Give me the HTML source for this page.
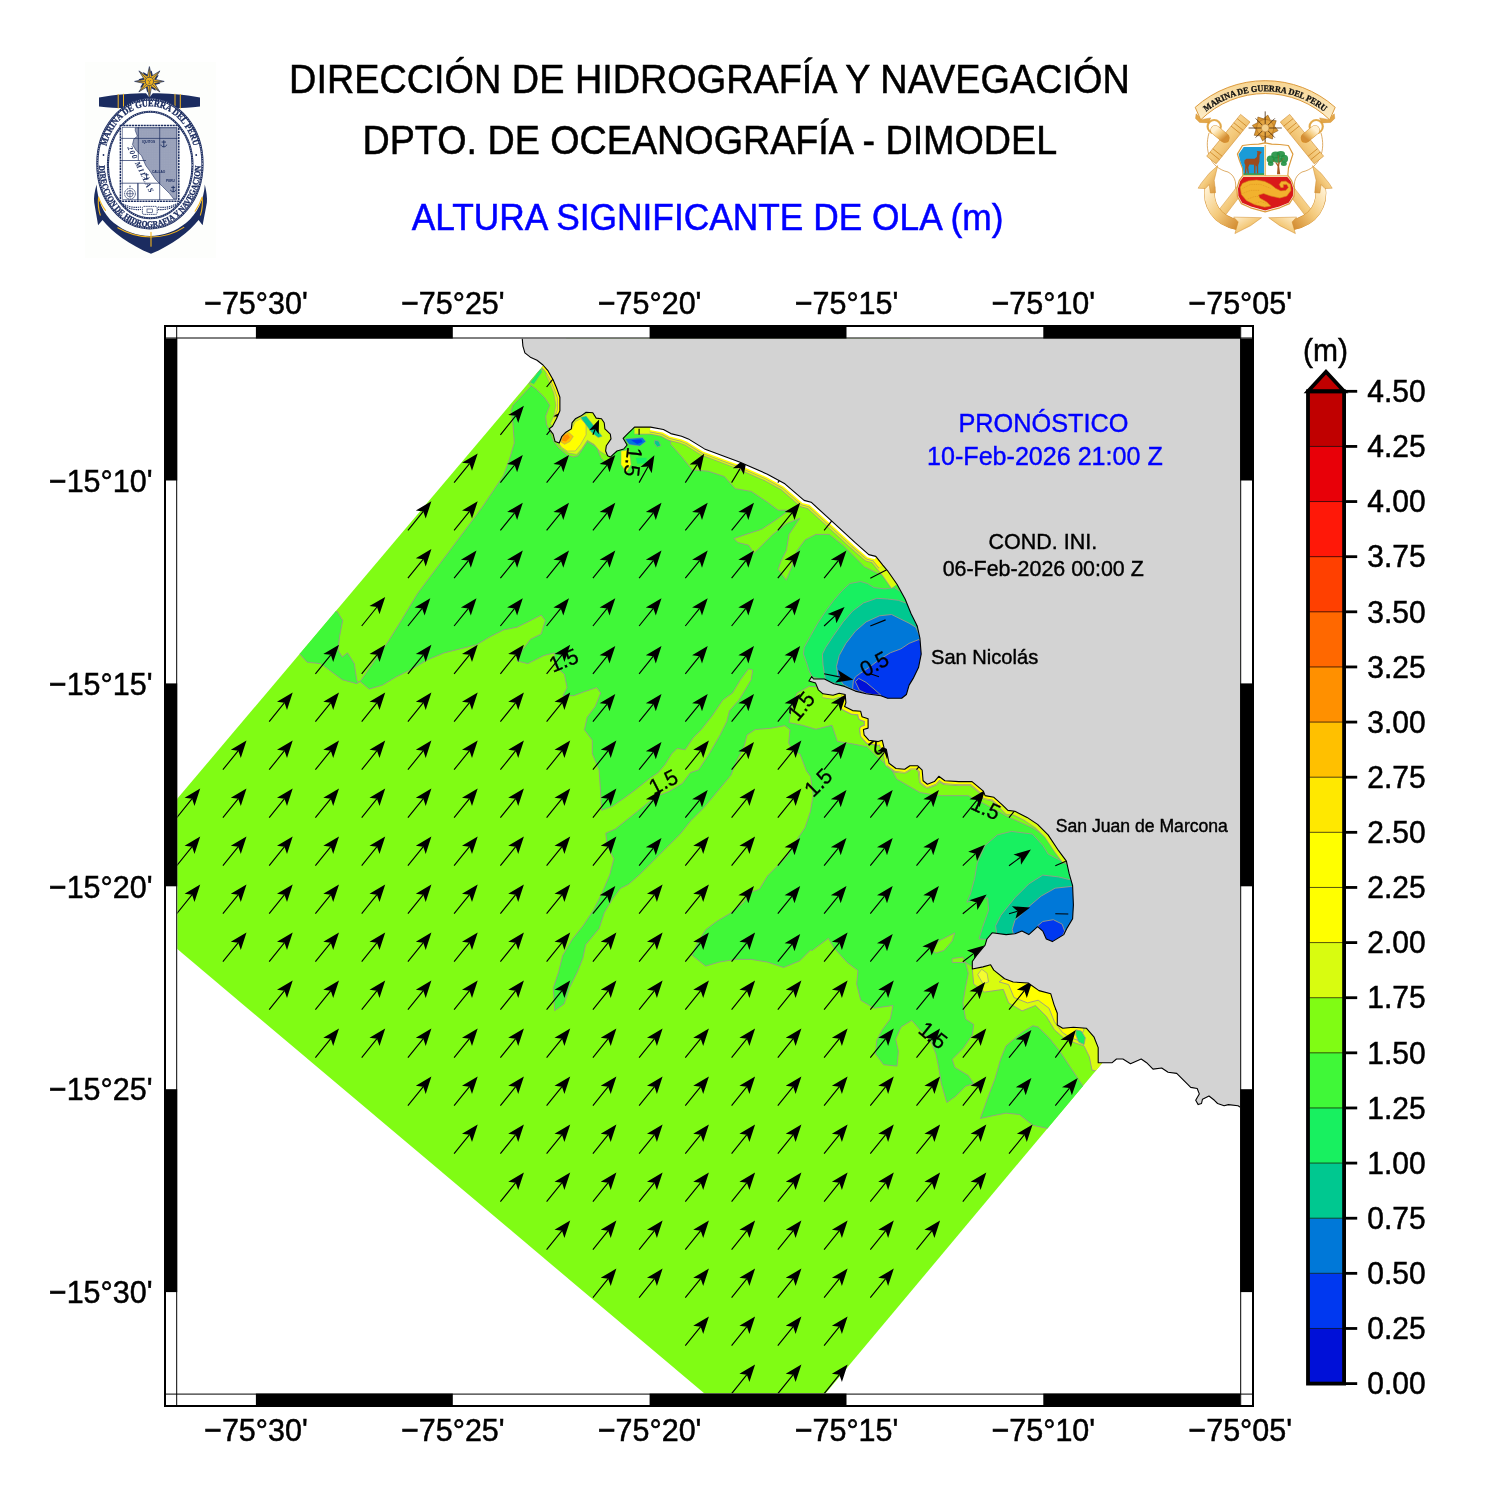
<!DOCTYPE html>
<html><head><meta charset="utf-8"><title>Altura significante de ola</title>
<style>html,body{margin:0;padding:0;background:#fff}body{width:1487px;height:1500px;overflow:hidden;font-family:"Liberation Sans",sans-serif}svg{display:block;will-change:transform;transform:translateZ(0)}text{font-family:"Liberation Sans",sans-serif}</style></head><body>
<svg width="1487" height="1500" viewBox="0 0 1487 1500">
<rect width="1487" height="1500" fill="#fff"/>
<g id="titles" text-anchor="middle" fill="#000" stroke="#000" stroke-width="0.5">
<text transform="translate(709.4,92.9) scale(1,1.055)" font-size="37.83">DIRECCIÓN DE HIDROGRAFÍA Y NAVEGACIÓN</text>
<text transform="translate(709.8,154.4) scale(1,1.055)" font-size="37.7">DPTO. DE OCEANOGRAFÍA - DIMODEL</text>
<text transform="translate(707.6,230.2) scale(1,1.055)" font-size="35.33" fill="#0000ff" stroke="#0000ff">ALTURA SIGNIFICANTE DE OLA (m)</text>
</g>
<clipPath id="mapclip"><rect x="177.2" y="338.5" width="1063.0" height="1055.1"/></clipPath>
<g id="map" clip-path="url(#mapclip)">
<polygon points="700.0,180.0 103.1,886.5 775.4,1453.3 1400.0,707.5" fill="#80fc14"/>
<clipPath id="dpclip"><polygon points="700.0,180.0 103.1,886.5 775.4,1453.3 1400.0,707.5"/></clipPath>
<g clip-path="url(#dpclip)">
<polygon points="546.6,370.3 531.8,385.1 513.0,405.3 511.1,410.7 513.0,424.1 514.3,443.0 509.5,459.1 503.6,475.3 492.8,491.4 482.0,507.5 465.9,529.1 449.8,550.6 433.6,572.1 417.5,593.6 401.3,620.5 387.9,642.0 374.4,660.9 361.5,679.7 358.3,682.9 356.7,679.7 354.3,663.6 347.5,652.8 342.2,657.1 338.1,650.1 339.5,636.7 342.7,620.5 337.3,611.6 328.7,609.8 296.4,650.1 307.2,662.2 320.6,663.6 331.4,671.6 342.2,679.7 357.0,683.7 359.6,681.0 369.1,689.1 382.5,685.1 396.0,677.0 412.1,668.9 428.2,659.5 444.4,652.8 460.5,648.8 476.7,644.7 490.1,636.7 503.6,629.9 517.0,627.2 527.8,621.9 541.2,615.1 545.3,620.5 541.2,634.0 530.5,639.3 522.4,650.1 517.0,660.9 527.8,663.6 543.9,655.5 554.7,652.8 555.0,666.1 564.4,674.1 567.1,687.6 563.0,695.7 573.8,695.7 584.6,691.6 596.7,687.6 600.7,693.0 595.3,706.4 587.2,717.2 584.6,729.3 584.3,729.6 592.3,740.3 592.3,753.8 599.1,769.9 600.4,788.8 601.7,810.3 612.5,806.3 626.0,796.8 636.7,788.8 650.2,778.0 658.2,772.6 665.0,764.6 671.7,753.8 677.1,748.4 685.1,749.8 693.2,737.7 701.3,729.6 712.0,716.1 722.8,700.0 732.5,693.0 740.6,679.5 748.6,668.8 752.7,670.1 751.3,679.5 743.3,693.0 738.9,700.0 729.5,710.8 726.8,721.5 720.1,735.0 709.3,753.8 698.6,769.9 690.5,772.6 682.4,783.4 669.0,791.5 655.5,796.8 642.1,807.6 628.6,818.4 615.2,829.1 605.8,833.2 607.1,845.3 613.9,858.7 609.8,874.8 601.7,893.7 593.7,909.8 582.9,926.0 572.2,939.4 562.7,955.5 558.7,971.7 553.3,987.8 554.7,1010.7 564.1,1004.0 569.5,987.8 577.5,971.7 582.9,958.2 585.6,944.8 599.1,928.6 604.4,912.5 612.5,899.1 620.6,888.3 628.6,884.3 639.4,874.8 652.9,861.4 666.3,847.9 679.8,834.5 690.5,821.0 704.0,807.6 717.4,791.5 730.9,775.3 736.2,761.9 744.3,745.7 747.0,735.0 755.1,729.6 771.2,728.2 784.7,725.6 790.0,729.6 788.7,743.0 792.7,751.1 800.0,753.8 802.4,760.2 806.5,771.0 810.5,776.4 813.2,795.2 810.5,811.3 805.1,827.5 794.4,843.6 786.3,857.1 778.2,865.1 767.5,875.9 759.4,889.3 751.3,892.0 743.3,902.8 729.8,913.6 716.4,921.6 705.6,929.7 697.5,943.1 692.2,955.3 692.2,955.4 705.6,966.1 719.1,962.1 735.2,959.4 751.3,959.4 767.5,962.1 783.6,967.5 799.8,960.8 810.5,950.0 812.3,950.4 828.4,938.3 833.8,947.7 847.2,962.5 858.0,970.6 856.7,984.0 860.7,1000.2 874.1,1008.2 893.0,1005.5 890.3,1019.0 882.2,1029.8 876.8,1040.5 875.5,1054.0 883.6,1064.7 897.0,1066.1 898.4,1051.3 895.7,1039.2 901.0,1027.1 911.8,1020.3 919.9,1029.8 930.6,1040.5 936.0,1054.0 938.7,1067.4 941.4,1083.6 946.8,1102.4 954.8,1097.0 965.6,1086.2 973.7,1083.6 968.3,1075.5 954.8,1067.4 952.2,1059.3 962.9,1048.6 972.3,1035.1 973.7,1024.4 965.6,1019.0 962.9,1002.9 965.6,986.7 968.3,973.3 965.6,962.5 972.3,966.5 1000.0,960.0 1100.0,960.0 1100.0,820.0 960.0,760.0 940.0,620.0 880.0,540.0 700.0,425.0 600.0,400.0 570.0,400.0 566.0,445.0 548.0,428.0 564.0,400.0 548.0,362.0" fill="#40f838" stroke="#9a9a8a" stroke-width="0.9" stroke-linejoin="round"/>
<polygon points="1032.9,1025.7 1022.1,1032.4 1006.0,1045.9 1000.6,1059.3 995.2,1078.2 987.1,1099.7 980.4,1118.5 992.5,1115.8 1006.0,1113.1 1019.4,1114.5 1032.9,1125.3 1051.7,1129.3 1092.0,1099.7 1078.6,1079.5 1070.5,1067.4 1059.8,1051.3 1049.0,1037.8 1038.2,1027.1" fill="#40f838" stroke="#9a9a8a" stroke-width="0.9" stroke-linejoin="round"/>
<polygon points="932.0,950.4 938.7,941.0 954.8,932.9 952.2,941.0 944.1,950.4 936.0,953.1" fill="#80fc14" stroke="#9a9a8a" stroke-width="0.9" stroke-linejoin="round"/>
<polygon points="952.2,958.5 962.9,957.1 965.6,962.5 952.2,962.5" fill="#80fc14" stroke="#9a9a8a" stroke-width="0.9" stroke-linejoin="round"/>
<polygon points="670.6,444.3 681.4,456.4 692.2,469.9 708.3,471.2 724.4,476.6 735.2,488.7 751.3,491.4 767.5,502.2 778.2,510.2 789.0,510.2 778.2,518.3 762.1,529.1 746.0,534.4 733.9,538.5 737.9,542.5 748.6,545.2 754.0,553.3 762.1,545.2 772.9,534.4 786.3,523.7 799.8,518.3 789.0,534.4 786.3,550.6 780.9,561.3 778.2,569.4 786.3,580.2 791.7,566.7 797.1,550.6 805.1,539.8 815.9,534.4 829.3,534.4 842.8,545.2 850.9,553.3 864.3,566.7 877.8,573.4 891.2,577.5 896.6,582.9 907.4,588.2 907.4,572.1 869.7,529.1 805.1,491.4 735.2,456.4 681.4,432.2 670.6,437.6" fill="#80fc14" stroke="#9a9a8a" stroke-width="0.9" stroke-linejoin="round"/>
<polygon points="812.3,677.0 808.9,670.3 806.9,663.6 803.5,654.1 804.2,647.4 810.9,635.3 817.7,623.2 825.7,611.1 833.8,600.3 841.9,590.9 849.9,583.5 860.7,581.5 867.4,583.5 874.1,587.6 884.9,588.9 894.3,587.6 900.4,591.6 914.5,600.3 927.9,654.1 907.8,705.3 880.9,699.9 852.6,689.8 824.4,679.7" fill="#18f060" stroke="#9a9a8a" stroke-width="0.9" stroke-linejoin="round"/>
<polygon points="825.1,678.4 823.0,664.9 822.4,654.1 825.7,647.4 833.8,635.3 843.2,621.9 852.6,611.1 863.4,603.0 876.8,598.3 887.6,599.0 898.4,600.3 905.8,603.0 914.5,600.3 927.9,654.1 907.8,705.3 880.9,699.9 852.6,689.8 824.4,679.7" fill="#00c890" stroke="#9a9a8a" stroke-width="0.9" stroke-linejoin="round"/>
<polygon points="843.2,684.4 837.8,675.7 836.5,666.3 839.2,655.5 845.9,643.4 855.3,631.3 866.1,621.9 879.5,615.8 891.6,614.5 901.0,619.2 909.1,623.2 915.8,627.2 927.9,654.1 907.8,705.3 880.9,699.9 852.6,689.8" fill="#0078d8" stroke="#9a9a8a" stroke-width="0.9" stroke-linejoin="round"/>
<polygon points="852.6,689.1 853.3,681.0 855.3,677.0 860.7,673.0 868.8,667.6 879.5,659.5 890.3,652.8 901.0,648.8 909.1,643.4 919.2,639.4 927.9,654.1 907.8,705.3 880.9,699.9" fill="#0038f0" stroke="#9a9a8a" stroke-width="0.9" stroke-linejoin="round"/>
<polygon points="855.3,681.7 858.7,678.4 866.1,682.4 874.1,689.1 880.9,695.2 874.1,694.8 866.1,693.4 859.4,690.2" fill="#0010d8" stroke="#9a9a8a" stroke-width="0.9" stroke-linejoin="round"/>
<polygon points="979.0,938.9 982.5,927.6 988.6,910.1 987.7,897.9 972.9,900.5 966.8,902.2 970.3,894.4 974.6,878.6 977.3,862.9 985.1,845.4 997.4,834.9 1011.4,831.4 1032.3,834.0 1042.8,845.4 1048.1,854.1 1060.3,860.3 1067.3,864.6 1084.8,869.9 1084.8,948.6 1049.8,950.3 992.1,939.8" fill="#18f060" stroke="#9a9a8a" stroke-width="0.9" stroke-linejoin="round"/>
<polygon points="995.6,925.8 1000.9,915.3 1014.8,897.9 1028.8,883.9 1042.8,875.1 1058.6,876.9 1069.1,879.5 1084.8,882.1 1084.8,948.6 997.4,939.8" fill="#00c890" stroke="#9a9a8a" stroke-width="0.9" stroke-linejoin="round"/>
<polygon points="1012.2,929.3 1014.8,920.6 1028.8,906.6 1041.1,896.1 1055.1,888.2 1070.8,886.5 1084.8,887.4 1084.8,948.6 1014.8,939.8" fill="#0078d8" stroke="#9a9a8a" stroke-width="0.9" stroke-linejoin="round"/>
<polygon points="1037.6,925.8 1042.8,921.5 1053.3,919.7 1062.1,924.1 1064.7,931.1 1061.2,938.9 1052.4,943.3 1044.6,939.8 1041.1,931.1" fill="#0038f0" stroke="#9a9a8a" stroke-width="0.9" stroke-linejoin="round"/>
<polygon points="809.2,686.3 797.1,693.0 791.7,706.4 789.0,722.6 802.4,725.3 815.9,729.3 832.0,725.3 837.4,741.4 853.6,744.1 867.0,746.8 877.8,757.5 891.2,768.3 896.6,779.1 920.0,792.5 930.6,794.4 941.4,795.7 968.3,795.7 984.4,803.8 1008.6,817.2 1032.9,828.0 1049.0,838.8 1065.1,863.0 1075.9,857.6 1022.1,790.3 941.4,766.1 920.0,754.8 869.7,714.5 829.3,687.6" fill="#80fc14" stroke="#9a9a8a" stroke-width="0.9" stroke-linejoin="round"/>
<polygon points="972.3,969.2 973.7,984.0 984.4,992.1 1003.3,989.4 1008.6,1002.9 1022.1,1010.9 1035.5,1005.5 1046.3,1016.3 1054.4,1029.8 1065.1,1039.2 1075.9,1043.2 1084.0,1045.9 1089.3,1056.7 1092.0,1070.1 1098.8,1071.5 1116.2,1045.9 1062.4,978.6 995.2,954.4" fill="#d8fc10" stroke="#9a9a8a" stroke-width="0.9" stroke-linejoin="round"/>
<polygon points="999.2,981.9 1008.6,984.6 1014.0,997.5 1027.5,1002.9 1038.2,1000.2 1049.0,1008.2 1054.4,1021.7 1062.4,1032.4 1070.5,1037.8 1078.6,1040.5 1084.0,1029.8 1062.4,978.6 1022.1,965.2" fill="#ffff00" stroke="#9a9a8a" stroke-width="0.9" stroke-linejoin="round"/>
<polygon points="977.7,974.6 983.1,984.0 988.5,981.9 987.1,973.3 981.7,969.2" fill="#f4fc30" stroke="#9a9a8a" stroke-width="0.7" stroke-linejoin="round"/>
<polygon points="1075.9,1029.8 1081.3,1031.1 1085.3,1037.8 1084.0,1044.6 1078.6,1041.9 1075.9,1035.1" fill="#18f060" stroke="#9a9a8a" stroke-width="0.9" stroke-linejoin="round"/>
<polygon points="540.3,370.3 533.6,374.4 528.9,383.8 536.3,389.2 544.4,397.2 549.8,405.3 545.7,416.1 546.4,424.1 549.8,430.9 553.8,441.6 559.2,448.4 567.2,455.1 573.3,457.1 578.0,455.8 582.0,449.7 587.4,441.6 596.8,447.0 600.9,457.8 606.3,463.2 611.6,457.1 614.3,437.6 594.1,410.7 567.2,410.7 560.5,383.8 547.1,367.7" fill="#80fc14" stroke="#9a9a8a" stroke-width="0.9" stroke-linejoin="round"/>
<polygon points="540.6,368.7 530.3,382.5 533.9,384.1 542.0,372.0" fill="#18f060" stroke="#9a9a8a" stroke-width="0.5" stroke-linejoin="round"/>
<polygon points="545.7,374.4 550.0,383.8 553.8,393.2 555.8,405.3 553.8,416.1 550.0,424.1 553.8,426.8 561.9,410.7 560.5,383.8 551.1,370.3" fill="#d8fc10" stroke="#9a9a8a" stroke-width="0.6" stroke-linejoin="round"/>
<polygon points="559.2,444.3 557.8,437.6 563.2,432.2 571.3,428.9 573.3,421.5 580.7,416.1 594.1,410.7 604.9,416.1 611.6,432.2 611.6,440.3 606.3,447.0 606.3,455.1 599.5,451.0 594.1,444.3 587.4,440.3 582.0,448.4 576.7,454.4 568.6,453.1 561.9,448.4" fill="#d8fc10" stroke="#9a9a8a" stroke-width="0.6" stroke-linejoin="round"/>
<polygon points="559.2,443.7 563.2,433.6 571.3,429.5 575.3,421.5 580.7,418.8 586.1,424.1 586.1,434.9 580.7,444.3 575.3,451.0 567.2,451.0 561.2,447.0" fill="#ffff00" stroke="#9a9a8a" stroke-width="0.6" stroke-linejoin="round"/>
<polygon points="560.8,441.9 563.2,434.4 568.6,432.2 573.3,436.5 569.9,441.6 564.6,444.3" fill="#ffc000" stroke="#9a9a8a" stroke-width="0.5" stroke-linejoin="round"/>
<polygon points="561.6,440.6 563.8,435.4 567.9,434.2 569.9,437.6 565.9,441.4" fill="#ff9000"/>
<polygon points="580.7,417.4 586.1,416.1 602.2,436.3 598.2,437.6 591.5,432.2" fill="#00c890" stroke="#9a9a8a" stroke-width="0.5" stroke-linejoin="round"/>
<polygon points="625.1,438.9 642.6,437.6 645.9,441.6 639.9,445.9 629.1,444.6" fill="#0078d8" stroke="#9a9a8a" stroke-width="0.5" stroke-linejoin="round"/>
<polygon points="631.1,440.3 641.2,439.2 642.6,441.9 637.2,444.1" fill="#0038f0"/>
<polygon points="647.9,427.9 664.1,429.8 670.1,434.6 661.4,433.6 653.3,431.1" fill="#0078d8" stroke="#9a9a8a" stroke-width="0.5" stroke-linejoin="round"/>
<polygon points="621.0,451.0 629.1,449.7 631.1,464.5 626.4,472.6 621.0,464.5" fill="#ffff00" stroke="#9a9a8a" stroke-width="0.5" stroke-linejoin="round"/>
<polygon points="635.8,457.8 646.6,457.8 646.6,463.2 637.2,463.8" fill="#18f060"/>
<polygon points="654.7,440.3 658.7,441.0 660.7,445.7 657.4,447.0 654.7,443.7" fill="#00c890" stroke="#9a9a8a" stroke-width="0.7" stroke-linejoin="round"/>
<polyline points="634.5,427.1 650.6,427.1 663.4,429.5 670.8,433.6 681.6,436.3 688.3,438.9 704.5,448.9 739.5,462.0 767.4,474.2 784.9,483.8 804.1,500.4 811.1,502.2 832.1,521.4 854.9,542.4 868.8,554.6 875.8,556.4 882.8,565.1 887.6,570.8 897.0,584.2" fill="none" stroke="#9a9a8a" stroke-width="14.6" stroke-linejoin="round" stroke-linecap="butt"/>
<polyline points="634.5,427.1 650.6,427.1 663.4,429.5 670.8,433.6 681.6,436.3 688.3,438.9 704.5,448.9 739.5,462.0 767.4,474.2 784.9,483.8 804.1,500.4 811.1,502.2 832.1,521.4 854.9,542.4 868.8,554.6 875.8,556.4 882.8,565.1 887.6,570.8 897.0,584.2" fill="none" stroke="#d8fc10" stroke-width="13.2" stroke-linejoin="round" stroke-linecap="butt"/>
<polyline points="650.6,427.1 663.4,429.5 670.8,433.6 681.6,436.3 688.3,438.9 704.5,448.9 739.5,462.0 767.4,474.2 784.9,483.8 804.1,500.4 811.1,502.2 832.1,521.4 854.9,542.4 868.8,554.6 875.8,556.4 882.8,565.1" fill="none" stroke="#9a9a8a" stroke-width="10.6" stroke-linejoin="round" stroke-linecap="butt"/>
<polyline points="650.6,427.1 663.4,429.5 670.8,433.6 681.6,436.3 688.3,438.9 704.5,448.9 739.5,462.0 767.4,474.2 784.9,483.8 804.1,500.4 811.1,502.2 832.1,521.4 854.9,542.4 868.8,554.6 875.8,556.4 882.8,565.1" fill="none" stroke="#ffff00" stroke-width="9.2" stroke-linejoin="round" stroke-linecap="butt"/>
<polyline points="650.6,427.1 663.4,429.5 670.8,433.6 681.6,436.3 688.3,438.9 704.5,448.9 739.5,462.0 767.4,474.2 784.9,483.8 804.1,500.4 811.1,502.2 832.1,521.4 854.9,542.4 868.8,554.6 875.8,556.4" fill="none" stroke="#ffffff" stroke-width="6.0" stroke-linejoin="round" stroke-linecap="butt"/>
<polyline points="543.0,365.0 547.7,370.3 553.1,379.8 556.5,387.8 559.9,397.3 559.9,410.7 556.5,418.8" fill="none" stroke="#9a9a8a" stroke-width="5.800000000000001" stroke-linejoin="round" stroke-linecap="butt"/>
<polyline points="543.0,365.0 547.7,370.3 553.1,379.8 556.5,387.8 559.9,397.3 559.9,410.7 556.5,418.8" fill="none" stroke="#ffff00" stroke-width="4.4" stroke-linejoin="round" stroke-linecap="butt"/>
<polyline points="823.0,693.8 833.1,695.2 839.2,693.2 845.2,694.5 845.9,702.6 844.6,706.6 852.6,710.6 860.7,711.3 862.0,716.7 868.1,718.7 868.1,728.1 863.4,729.5 864.1,734.8 868.8,740.2 878.2,741.6 882.2,740.2 884.2,748.3 886.3,749.2 889.0,763.2 896.0,768.5 904.7,769.3 909.9,765.8 917.8,765.8 922.2,770.2 923.1,780.7 927.4,784.2 934.4,781.6 938.8,776.3 944.9,780.7 958.9,781.6 972.0,781.6 983.4,791.2 985.1,795.6 993.9,797.3 1002.6,805.2 1007.9,810.4 1014.9,811.3 1027.1,817.4 1037.6,824.4 1048.1,834.9 1058.6,850.7 1066.4,861.1" fill="none" stroke="#9a9a8a" stroke-width="8.6" stroke-linejoin="round" stroke-linecap="butt"/>
<polyline points="823.0,693.8 833.1,695.2 839.2,693.2 845.2,694.5 845.9,702.6 844.6,706.6 852.6,710.6 860.7,711.3 862.0,716.7 868.1,718.7 868.1,728.1 863.4,729.5 864.1,734.8 868.8,740.2 878.2,741.6 882.2,740.2 884.2,748.3 886.3,749.2 889.0,763.2 896.0,768.5 904.7,769.3 909.9,765.8 917.8,765.8 922.2,770.2 923.1,780.7 927.4,784.2 934.4,781.6 938.8,776.3 944.9,780.7 958.9,781.6 972.0,781.6 983.4,791.2 985.1,795.6 993.9,797.3 1002.6,805.2 1007.9,810.4 1014.9,811.3 1027.1,817.4 1037.6,824.4 1048.1,834.9 1058.6,850.7 1066.4,861.1" fill="none" stroke="#d8fc10" stroke-width="7.2" stroke-linejoin="round" stroke-linecap="butt"/>
<polyline points="845.2,694.5 845.9,702.6 844.6,706.6 852.6,710.6 860.7,711.3 862.0,716.7 868.1,718.7 868.1,728.1 863.4,729.5 864.1,734.8 868.8,740.2 878.2,741.6 882.2,740.2 884.2,748.3" fill="none" stroke="#9a9a8a" stroke-width="7.800000000000001" stroke-linejoin="round" stroke-linecap="butt"/>
<polyline points="845.2,694.5 845.9,702.6 844.6,706.6 852.6,710.6 860.7,711.3 862.0,716.7 868.1,718.7 868.1,728.1 863.4,729.5 864.1,734.8 868.8,740.2 878.2,741.6 882.2,740.2 884.2,748.3" fill="none" stroke="#ffff00" stroke-width="6.4" stroke-linejoin="round" stroke-linecap="butt"/>
<polyline points="889.0,763.2 896.0,768.5 904.7,769.3 909.9,765.8 917.8,765.8 922.2,770.2 923.1,780.7 927.4,784.2 934.4,781.6 938.8,776.3 944.9,780.7 958.9,781.6 972.0,781.6 983.4,791.2 985.1,795.6 993.9,797.3 1002.6,805.2" fill="none" stroke="#9a9a8a" stroke-width="6.6" stroke-linejoin="round" stroke-linecap="butt"/>
<polyline points="889.0,763.2 896.0,768.5 904.7,769.3 909.9,765.8 917.8,765.8 922.2,770.2 923.1,780.7 927.4,784.2 934.4,781.6 938.8,776.3 944.9,780.7 958.9,781.6 972.0,781.6 983.4,791.2 985.1,795.6 993.9,797.3 1002.6,805.2" fill="none" stroke="#ffff00" stroke-width="5.2" stroke-linejoin="round" stroke-linecap="butt"/>
</g>
<text transform="translate(633.5,462.0) rotate(97) scale(1,1.04)" font-size="21" fill="#000" stroke="#000" stroke-width="0.3" text-anchor="middle" dy="0.36em">1.5</text>
<text transform="translate(563.5,660.0) rotate(-22) scale(1,1.04)" font-size="21" fill="#000" stroke="#000" stroke-width="0.3" text-anchor="middle" dy="0.36em">1.5</text>
<text transform="translate(663.2,781.5) rotate(-27) scale(1,1.04)" font-size="21" fill="#000" stroke="#000" stroke-width="0.3" text-anchor="middle" dy="0.36em">1.5</text>
<text transform="translate(800.8,705.9) rotate(-51) scale(1,1.04)" font-size="21" fill="#000" stroke="#000" stroke-width="0.3" text-anchor="middle" dy="0.36em">1.5</text>
<text transform="translate(817.9,782.3) rotate(-45) scale(1,1.04)" font-size="21" fill="#000" stroke="#000" stroke-width="0.3" text-anchor="middle" dy="0.36em">1.5</text>
<text transform="translate(933.3,1035.1) rotate(39) scale(1,1.04)" font-size="21" fill="#000" stroke="#000" stroke-width="0.3" text-anchor="middle" dy="0.36em">1.5</text>
<text transform="translate(986.0,807.5) rotate(25) scale(1,1.04)" font-size="21" fill="#000" stroke="#000" stroke-width="0.3" text-anchor="middle" dy="0.36em">1.5</text>
<text transform="translate(876.8,747.5) rotate(140) scale(1,1.04)" font-size="21" fill="#000" stroke="#000" stroke-width="0.3" text-anchor="middle" dy="0.36em">2</text>
<text transform="translate(874.1,663.6) rotate(-28) scale(1,1.04)" font-size="21" fill="#000" stroke="#000" stroke-width="0.3" text-anchor="middle" dy="0.36em">0.5</text>
<path d="M130.5,865.7L145.8,846.7M176.7,817.7L192.1,798.7M176.7,865.7L192.1,846.7M176.7,913.7L192.1,894.7M222.9,769.7L238.3,750.7M222.9,817.7L238.3,798.7M222.9,865.7L238.3,846.7M222.9,913.7L238.3,894.7M222.9,961.7L238.3,942.7M269.2,721.7L284.5,702.7M269.2,769.7L284.5,750.7M269.2,817.7L284.5,798.7M269.2,865.7L284.5,846.7M269.2,913.7L284.5,894.7M269.2,961.7L284.5,942.7M269.2,1009.7L284.5,990.7M315.4,673.8L330.8,654.8M315.4,721.7L330.8,702.7M315.4,769.7L330.8,750.7M315.4,817.7L330.8,798.7M315.4,865.7L330.8,846.7M315.4,913.7L330.8,894.7M315.4,961.7L330.8,942.7M315.4,1009.7L330.8,990.7M315.4,1057.7L330.8,1038.7M361.7,626.0L377.0,607.0M361.7,673.8L377.0,654.8M361.7,721.7L377.0,702.7M361.7,769.7L377.0,750.7M361.7,817.7L377.0,798.7M361.7,865.7L377.0,846.7M361.7,913.7L377.0,894.7M361.7,961.7L377.0,942.7M361.7,1009.7L377.0,990.7M361.7,1057.7L377.0,1038.7M407.9,530.4L423.3,511.4M407.9,578.2L423.3,559.2M407.9,626.0L422.1,608.4M407.9,673.8L423.3,654.8M407.9,721.7L423.3,702.7M407.9,769.7L423.3,750.7M407.9,817.7L423.3,798.7M407.9,865.7L423.3,846.7M407.9,913.7L423.3,894.7M407.9,961.7L423.3,942.7M407.9,1009.7L423.3,990.7M407.9,1057.7L423.3,1038.7M407.9,1105.7L423.3,1086.7M454.1,482.6L469.5,463.6M454.1,530.4L469.5,511.4M454.1,578.2L468.4,560.6M454.1,626.0L468.4,608.4M454.1,673.8L469.5,654.8M454.1,721.7L469.5,702.7M454.1,769.7L469.5,750.7M454.1,817.7L469.5,798.7M454.1,865.7L469.5,846.7M454.1,913.7L469.5,894.7M454.1,961.7L469.5,942.7M454.1,1009.7L469.5,990.7M454.1,1057.7L469.5,1038.7M454.1,1105.7L469.5,1086.7M454.1,1153.7L469.5,1134.7M500.4,434.8L515.7,415.8M500.4,482.6L514.6,465.0M500.4,530.4L514.6,512.8M500.4,578.2L514.6,560.6M500.4,626.0L514.6,608.4M500.4,673.8L515.7,654.8M500.4,721.7L515.7,702.7M500.4,769.7L515.7,750.7M500.4,817.7L515.7,798.7M500.4,865.7L515.7,846.7M500.4,913.7L515.7,894.7M500.4,961.7L515.7,942.7M500.4,1009.7L515.7,990.7M500.4,1057.7L515.7,1038.7M500.4,1105.7L515.7,1086.7M500.4,1153.7L515.7,1134.7M500.4,1201.7L515.7,1182.7M546.6,387.0L560.8,369.4M546.6,434.8L560.8,417.2M546.6,482.6L560.8,465.0M546.6,530.4L560.8,512.8M546.6,578.2L560.8,560.6M546.6,626.0L560.8,608.4M546.6,673.8L562.0,654.8M546.6,721.7L562.0,702.7M546.6,769.7L562.0,750.7M546.6,817.7L562.0,798.7M546.6,865.7L562.0,846.7M546.6,913.7L562.0,894.7M546.6,961.7L562.0,942.7M546.6,1009.7L562.0,990.7M546.6,1057.7L562.0,1038.7M546.6,1105.7L562.0,1086.7M546.6,1153.7L562.0,1134.7M546.6,1201.7L562.0,1182.7M546.6,1249.7L562.0,1230.7M592.9,434.8L595.1,429.2M592.9,482.6L607.1,465.0M592.9,530.4L607.1,512.8M592.9,578.2L607.1,560.6M592.9,626.0L607.1,608.4M592.9,673.8L607.1,656.2M592.9,721.7L607.1,704.1M592.9,769.7L608.2,750.7M592.9,817.7L608.2,798.7M592.9,865.7L608.2,846.7M592.9,913.7L607.1,896.1M592.9,961.7L608.2,942.7M592.9,1009.7L608.2,990.7M592.9,1057.7L608.2,1038.7M592.9,1105.7L608.2,1086.7M592.9,1153.7L608.2,1134.7M592.9,1201.7L608.2,1182.7M592.9,1249.7L608.2,1230.7M592.9,1297.7L608.2,1278.7M639.1,434.8L639.1,428.8M639.1,482.6L648.1,466.5M639.1,530.4L653.3,512.8M639.1,578.2L653.3,560.6M639.1,626.0L653.3,608.4M639.1,673.8L653.3,656.2M639.1,721.7L653.3,704.1M639.1,769.7L653.3,752.1M639.1,817.7L653.3,800.1M639.1,865.7L653.3,848.1M639.1,913.7L654.5,894.7M639.1,961.7L654.5,942.7M639.1,1009.7L654.5,990.7M639.1,1057.7L654.5,1038.7M639.1,1105.7L654.5,1086.7M639.1,1153.7L654.5,1134.7M639.1,1201.7L654.5,1182.7M639.1,1249.7L654.5,1230.7M639.1,1297.7L654.5,1278.7M685.3,482.6L697.1,464.6M685.3,530.4L699.6,512.8M685.3,578.2L699.6,560.6M685.3,626.0L699.6,608.4M685.3,673.8L699.6,656.2M685.3,721.7L699.6,704.1M685.3,769.7L700.7,750.7M685.3,817.7L699.6,800.1M685.3,865.7L700.7,846.7M685.3,913.7L700.7,894.7M685.3,961.7L700.7,942.7M685.3,1009.7L700.7,990.7M685.3,1057.7L700.7,1038.7M685.3,1105.7L700.7,1086.7M685.3,1153.7L700.7,1134.7M685.3,1201.7L700.7,1182.7M685.3,1249.7L700.7,1230.7M685.3,1297.7L700.7,1278.7M685.3,1345.7L700.7,1326.7M731.6,482.6L740.4,468.1M731.6,530.4L745.8,512.8M731.6,578.2L745.8,560.6M731.6,626.0L745.8,608.4M731.6,673.8L745.8,656.2M731.6,721.7L745.8,704.1M731.6,769.7L745.8,752.1M731.6,817.7L746.9,798.7M731.6,865.7L746.9,846.7M731.6,913.7L745.8,896.1M731.6,961.7L746.9,942.7M731.6,1009.7L746.9,990.7M731.6,1057.7L746.9,1038.7M731.6,1105.7L746.9,1086.7M731.6,1153.7L746.9,1134.7M731.6,1201.7L746.9,1182.7M731.6,1249.7L746.9,1230.7M731.6,1297.7L746.9,1278.7M731.6,1345.7L746.9,1326.7M731.6,1393.7L746.9,1374.7M777.8,482.6L792.0,465.0M777.8,530.4L792.0,512.8M777.8,578.2L792.0,560.6M777.8,626.0L792.0,608.4M777.8,673.8L792.0,656.2M777.8,721.7L792.0,704.1M777.8,769.7L793.2,750.7M777.8,817.7L793.2,798.7M777.8,865.7L792.0,848.1M777.8,913.7L792.0,896.1M777.8,961.7L792.0,944.1M777.8,1009.7L793.2,990.7M777.8,1057.7L793.2,1038.7M777.8,1105.7L793.2,1086.7M777.8,1153.7L793.2,1134.7M777.8,1201.7L793.2,1182.7M777.8,1249.7L793.2,1230.7M777.8,1297.7L793.2,1278.7M777.8,1345.7L793.2,1326.7M777.8,1393.7L793.2,1374.7M777.8,1441.7L793.2,1422.7M824.1,530.4L838.3,512.8M824.1,578.2L838.3,560.6M824.1,626.0L835.0,615.9M824.1,673.8L840.5,677.1M824.1,721.7L838.3,704.1M824.1,769.7L838.3,752.1M824.1,817.7L838.3,800.1M824.1,865.7L838.3,848.1M824.1,913.7L838.3,896.1M824.1,961.7L839.4,942.7M824.1,1009.7L839.4,990.7M824.1,1057.7L839.4,1038.7M824.1,1105.7L839.4,1086.7M824.1,1153.7L839.4,1134.7M824.1,1201.7L839.4,1182.7M824.1,1249.7L839.4,1230.7M824.1,1297.7L839.4,1278.7M824.1,1345.7L839.4,1326.7M824.1,1393.7L839.4,1374.7M870.3,578.2L886.3,570.0M870.3,626.0L885.6,619.9M870.3,673.8L879.0,676.8M870.3,769.7L884.5,752.1M870.3,817.7L884.5,800.1M870.3,865.7L884.5,848.1M870.3,913.7L884.5,896.1M870.3,961.7L884.5,944.1M870.3,1009.7L885.7,990.7M870.3,1057.7L885.7,1038.7M870.3,1105.7L885.7,1086.7M870.3,1153.7L885.7,1134.7M870.3,1201.7L885.7,1182.7M870.3,1249.7L885.7,1230.7M870.3,1297.7L885.7,1278.7M916.5,626.0L930.8,608.4M916.5,769.7L930.8,752.1M916.5,817.7L930.8,800.1M916.5,865.7L930.8,848.1M916.5,913.7L930.8,896.1M916.5,961.7L929.7,948.0M916.5,1009.7L930.8,992.1M916.5,1057.7L931.9,1038.7M916.5,1105.7L931.9,1086.7M916.5,1153.7L931.9,1134.7M916.5,1201.7L931.9,1182.7M916.5,1249.7L931.9,1230.7M962.8,817.7L977.0,800.1M962.8,865.7L975.5,853.7M962.8,913.7L976.5,902.6M962.8,961.7L973.9,953.4M962.8,1009.7L977.0,992.1M962.8,1057.7L978.1,1038.7M962.8,1105.7L978.1,1086.7M962.8,1153.7L978.1,1134.7M962.8,1201.7L978.1,1182.7M1009.0,817.7L1023.2,800.1M1009.0,865.7L1020.5,857.3M1009.0,913.7L1017.6,911.2M1009.0,1009.7L1024.4,990.7M1009.0,1057.7L1023.2,1040.1M1009.0,1105.7L1023.2,1088.1M1009.0,1153.7L1024.4,1134.7M1055.3,865.7L1065.8,861.3M1055.3,913.7L1068.3,914.0M1055.3,1009.7L1070.6,990.7M1055.3,1057.7L1068.1,1040.3M1055.3,1105.7L1069.5,1088.1M1286.5,626.0L1301.8,607.0M1286.5,673.8L1301.8,654.8M1286.5,721.7L1301.8,702.7M1286.5,769.7L1301.8,750.7M1286.5,817.7L1301.8,798.7" stroke="#000" stroke-width="1.15" fill="none"/>
<path d="M154.0,836.6L148.3,853.9L145.8,846.7L138.3,845.8ZM200.2,788.6L194.5,805.9L192.1,798.7L184.6,797.8ZM200.2,836.6L194.5,853.9L192.1,846.7L184.6,845.8ZM200.2,884.6L194.5,901.9L192.1,894.7L184.6,893.8ZM246.5,740.6L240.8,757.9L238.3,750.7L230.8,749.8ZM246.5,788.6L240.8,805.9L238.3,798.7L230.8,797.8ZM246.5,836.6L240.8,853.9L238.3,846.7L230.8,845.8ZM246.5,884.6L240.8,901.9L238.3,894.7L230.8,893.8ZM246.5,932.6L240.8,949.9L238.3,942.7L230.8,941.8ZM292.7,692.6L287.0,709.9L284.5,702.7L277.0,701.8ZM292.7,740.6L287.0,757.9L284.5,750.7L277.0,749.8ZM292.7,788.6L287.0,805.9L284.5,798.7L277.0,797.8ZM292.7,836.6L287.0,853.9L284.5,846.7L277.0,845.8ZM292.7,884.6L287.0,901.9L284.5,894.7L277.0,893.8ZM292.7,932.6L287.0,949.9L284.5,942.7L277.0,941.8ZM292.7,980.6L287.0,997.9L284.5,990.7L277.0,989.8ZM339.0,644.7L333.2,662.0L330.8,654.8L323.3,653.9ZM339.0,692.6L333.2,709.9L330.8,702.7L323.3,701.8ZM339.0,740.6L333.2,757.9L330.8,750.7L323.3,749.8ZM339.0,788.6L333.2,805.9L330.8,798.7L323.3,797.8ZM339.0,836.6L333.2,853.9L330.8,846.7L323.3,845.8ZM339.0,884.6L333.2,901.9L330.8,894.7L323.3,893.8ZM339.0,932.6L333.2,949.9L330.8,942.7L323.3,941.8ZM339.0,980.6L333.2,997.9L330.8,990.7L323.3,989.8ZM339.0,1028.6L333.2,1045.9L330.8,1038.7L323.3,1037.8ZM385.2,596.9L379.5,614.2L377.0,607.0L369.5,606.1ZM385.2,644.7L379.5,662.0L377.0,654.8L369.5,653.9ZM385.2,692.6L379.5,709.9L377.0,702.7L369.5,701.8ZM385.2,740.6L379.5,757.9L377.0,750.7L369.5,749.8ZM385.2,788.6L379.5,805.9L377.0,798.7L369.5,797.8ZM385.2,836.6L379.5,853.9L377.0,846.7L369.5,845.8ZM385.2,884.6L379.5,901.9L377.0,894.7L369.5,893.8ZM385.2,932.6L379.5,949.9L377.0,942.7L369.5,941.8ZM385.2,980.6L379.5,997.9L377.0,990.7L369.5,989.8ZM385.2,1028.6L379.5,1045.9L377.0,1038.7L369.5,1037.8ZM431.4,501.3L425.7,518.6L423.3,511.4L415.8,510.5ZM431.4,549.1L425.7,566.4L423.3,559.2L415.8,558.3ZM430.3,598.3L424.6,615.6L422.1,608.4L414.6,607.5ZM431.4,644.7L425.7,662.0L423.3,654.8L415.8,653.9ZM431.4,692.6L425.7,709.9L423.3,702.7L415.8,701.8ZM431.4,740.6L425.7,757.9L423.3,750.7L415.8,749.8ZM431.4,788.6L425.7,805.9L423.3,798.7L415.8,797.8ZM431.4,836.6L425.7,853.9L423.3,846.7L415.8,845.8ZM431.4,884.6L425.7,901.9L423.3,894.7L415.8,893.8ZM431.4,932.6L425.7,949.9L423.3,942.7L415.8,941.8ZM431.4,980.6L425.7,997.9L423.3,990.7L415.8,989.8ZM431.4,1028.6L425.7,1045.9L423.3,1038.7L415.8,1037.8ZM431.4,1076.6L425.7,1093.9L423.3,1086.7L415.8,1085.8ZM477.7,453.5L472.0,470.8L469.5,463.6L462.0,462.7ZM477.7,501.3L472.0,518.6L469.5,511.4L462.0,510.5ZM476.5,550.5L470.8,567.8L468.4,560.6L460.9,559.7ZM476.5,598.3L470.8,615.6L468.4,608.4L460.9,607.5ZM477.7,644.7L472.0,662.0L469.5,654.8L462.0,653.9ZM477.7,692.6L472.0,709.9L469.5,702.7L462.0,701.8ZM477.7,740.6L472.0,757.9L469.5,750.7L462.0,749.8ZM477.7,788.6L472.0,805.9L469.5,798.7L462.0,797.8ZM477.7,836.6L472.0,853.9L469.5,846.7L462.0,845.8ZM477.7,884.6L472.0,901.9L469.5,894.7L462.0,893.8ZM477.7,932.6L472.0,949.9L469.5,942.7L462.0,941.8ZM477.7,980.6L472.0,997.9L469.5,990.7L462.0,989.8ZM477.7,1028.6L472.0,1045.9L469.5,1038.7L462.0,1037.8ZM477.7,1076.6L472.0,1093.9L469.5,1086.7L462.0,1085.8ZM477.7,1124.6L472.0,1141.9L469.5,1134.7L462.0,1133.8ZM523.9,405.7L518.2,423.0L515.7,415.8L508.2,414.9ZM522.8,454.9L517.1,472.2L514.6,465.0L507.1,464.1ZM522.8,502.7L517.1,520.0L514.6,512.8L507.1,511.9ZM522.8,550.5L517.1,567.8L514.6,560.6L507.1,559.7ZM522.8,598.3L517.1,615.6L514.6,608.4L507.1,607.5ZM523.9,644.7L518.2,662.0L515.7,654.8L508.2,653.9ZM523.9,692.6L518.2,709.9L515.7,702.7L508.2,701.8ZM523.9,740.6L518.2,757.9L515.7,750.7L508.2,749.8ZM523.9,788.6L518.2,805.9L515.7,798.7L508.2,797.8ZM523.9,836.6L518.2,853.9L515.7,846.7L508.2,845.8ZM523.9,884.6L518.2,901.9L515.7,894.7L508.2,893.8ZM523.9,932.6L518.2,949.9L515.7,942.7L508.2,941.8ZM523.9,980.6L518.2,997.9L515.7,990.7L508.2,989.8ZM523.9,1028.6L518.2,1045.9L515.7,1038.7L508.2,1037.8ZM523.9,1076.6L518.2,1093.9L515.7,1086.7L508.2,1085.8ZM523.9,1124.6L518.2,1141.9L515.7,1134.7L508.2,1133.8ZM523.9,1172.6L518.2,1189.9L515.7,1182.7L508.2,1181.8ZM569.0,359.3L563.3,376.6L560.8,369.4L553.4,368.5ZM569.0,407.1L563.3,424.4L560.8,417.2L553.4,416.3ZM569.0,454.9L563.3,472.2L560.8,465.0L553.4,464.1ZM569.0,502.7L563.3,520.0L560.8,512.8L553.4,511.9ZM569.0,550.5L563.3,567.8L560.8,560.6L553.4,559.7ZM569.0,598.3L563.3,615.6L560.8,608.4L553.4,607.5ZM570.2,644.7L564.4,662.0L562.0,654.8L554.5,653.9ZM570.2,692.6L564.4,709.9L562.0,702.7L554.5,701.8ZM570.2,740.6L564.4,757.9L562.0,750.7L554.5,749.8ZM570.2,788.6L564.4,805.9L562.0,798.7L554.5,797.8ZM570.2,836.6L564.4,853.9L562.0,846.7L554.5,845.8ZM570.2,884.6L564.4,901.9L562.0,894.7L554.5,893.8ZM570.2,932.6L564.4,949.9L562.0,942.7L554.5,941.8ZM570.2,980.6L564.4,997.9L562.0,990.7L554.5,989.8ZM570.2,1028.6L564.4,1045.9L562.0,1038.7L554.5,1037.8ZM570.2,1076.6L564.4,1093.9L562.0,1086.7L554.5,1085.8ZM570.2,1124.6L564.4,1141.9L562.0,1134.7L554.5,1133.8ZM570.2,1172.6L564.4,1189.9L562.0,1182.7L554.5,1181.8ZM570.2,1220.6L564.4,1237.9L562.0,1230.7L554.5,1229.8ZM599.1,419.4L598.7,434.2L595.1,429.2L589.1,430.3ZM615.3,454.9L609.5,472.2L607.1,465.0L599.6,464.1ZM615.3,502.7L609.5,520.0L607.1,512.8L599.6,511.9ZM615.3,550.5L609.5,567.8L607.1,560.6L599.6,559.7ZM615.3,598.3L609.5,615.6L607.1,608.4L599.6,607.5ZM615.3,646.1L609.5,663.4L607.1,656.2L599.6,655.3ZM615.3,694.0L609.5,711.3L607.1,704.1L599.6,703.2ZM616.4,740.6L610.7,757.9L608.2,750.7L600.7,749.8ZM616.4,788.6L610.7,805.9L608.2,798.7L600.7,797.8ZM616.4,836.6L610.7,853.9L608.2,846.7L600.7,845.8ZM615.3,886.0L609.5,903.3L607.1,896.1L599.6,895.2ZM616.4,932.6L610.7,949.9L608.2,942.7L600.7,941.8ZM616.4,980.6L610.7,997.9L608.2,990.7L600.7,989.8ZM616.4,1028.6L610.7,1045.9L608.2,1038.7L600.7,1037.8ZM616.4,1076.6L610.7,1093.9L608.2,1086.7L600.7,1085.8ZM616.4,1124.6L610.7,1141.9L608.2,1134.7L600.7,1133.8ZM616.4,1172.6L610.7,1189.9L608.2,1182.7L600.7,1181.8ZM616.4,1220.6L610.7,1237.9L608.2,1230.7L600.7,1229.8ZM616.4,1268.6L610.7,1285.9L608.2,1278.7L600.7,1277.8ZM654.4,455.2L651.7,473.2L648.1,466.5L640.5,466.9ZM661.5,502.7L655.8,520.0L653.3,512.8L645.8,511.9ZM661.5,550.5L655.8,567.8L653.3,560.6L645.8,559.7ZM661.5,598.3L655.8,615.6L653.3,608.4L645.8,607.5ZM661.5,646.1L655.8,663.4L653.3,656.2L645.8,655.3ZM661.5,694.0L655.8,711.3L653.3,704.1L645.8,703.2ZM661.5,742.0L655.8,759.3L653.3,752.1L645.8,751.2ZM661.5,790.0L655.8,807.3L653.3,800.1L645.8,799.2ZM661.5,838.0L655.8,855.3L653.3,848.1L645.8,847.2ZM662.6,884.6L656.9,901.9L654.5,894.7L647.0,893.8ZM662.6,932.6L656.9,949.9L654.5,942.7L647.0,941.8ZM662.6,980.6L656.9,997.9L654.5,990.7L647.0,989.8ZM662.6,1028.6L656.9,1045.9L654.5,1038.7L647.0,1037.8ZM662.6,1076.6L656.9,1093.9L654.5,1086.7L647.0,1085.8ZM662.6,1124.6L656.9,1141.9L654.5,1134.7L647.0,1133.8ZM662.6,1172.6L656.9,1189.9L654.5,1182.7L647.0,1181.8ZM662.6,1220.6L656.9,1237.9L654.5,1230.7L647.0,1229.8ZM662.6,1268.6L656.9,1285.9L654.5,1278.7L647.0,1277.8ZM704.2,453.7L700.3,471.5L697.1,464.6L689.6,464.5ZM707.7,502.7L702.0,520.0L699.6,512.8L692.1,511.9ZM707.7,550.5L702.0,567.8L699.6,560.6L692.1,559.7ZM707.7,598.3L702.0,615.6L699.6,608.4L692.1,607.5ZM707.7,646.1L702.0,663.4L699.6,656.2L692.1,655.3ZM707.7,694.0L702.0,711.3L699.6,704.1L692.1,703.2ZM708.9,740.6L703.2,757.9L700.7,750.7L693.2,749.8ZM707.7,790.0L702.0,807.3L699.6,800.1L692.1,799.2ZM708.9,836.6L703.2,853.9L700.7,846.7L693.2,845.8ZM708.9,884.6L703.2,901.9L700.7,894.7L693.2,893.8ZM708.9,932.6L703.2,949.9L700.7,942.7L693.2,941.8ZM708.9,980.6L703.2,997.9L700.7,990.7L693.2,989.8ZM708.9,1028.6L703.2,1045.9L700.7,1038.7L693.2,1037.8ZM708.9,1076.6L703.2,1093.9L700.7,1086.7L693.2,1085.8ZM708.9,1124.6L703.2,1141.9L700.7,1134.7L693.2,1133.8ZM708.9,1172.6L703.2,1189.9L700.7,1182.7L693.2,1181.8ZM708.9,1220.6L703.2,1237.9L700.7,1230.7L693.2,1229.8ZM708.9,1268.6L703.2,1285.9L700.7,1278.7L693.2,1277.8ZM708.9,1316.6L703.2,1333.9L700.7,1326.7L693.2,1325.8ZM747.2,457.0L743.8,474.8L740.4,468.1L732.9,468.2ZM754.0,502.7L748.3,520.0L745.8,512.8L738.3,511.9ZM754.0,550.5L748.3,567.8L745.8,560.6L738.3,559.7ZM754.0,598.3L748.3,615.6L745.8,608.4L738.3,607.5ZM754.0,646.1L748.3,663.4L745.8,656.2L738.3,655.3ZM754.0,694.0L748.3,711.3L745.8,704.1L738.3,703.2ZM754.0,742.0L748.3,759.3L745.8,752.1L738.3,751.2ZM755.1,788.6L749.4,805.9L746.9,798.7L739.4,797.8ZM755.1,836.6L749.4,853.9L746.9,846.7L739.4,845.8ZM754.0,886.0L748.3,903.3L745.8,896.1L738.3,895.2ZM755.1,932.6L749.4,949.9L746.9,942.7L739.4,941.8ZM755.1,980.6L749.4,997.9L746.9,990.7L739.4,989.8ZM755.1,1028.6L749.4,1045.9L746.9,1038.7L739.4,1037.8ZM755.1,1076.6L749.4,1093.9L746.9,1086.7L739.4,1085.8ZM755.1,1124.6L749.4,1141.9L746.9,1134.7L739.4,1133.8ZM755.1,1172.6L749.4,1189.9L746.9,1182.7L739.4,1181.8ZM755.1,1220.6L749.4,1237.9L746.9,1230.7L739.4,1229.8ZM755.1,1268.6L749.4,1285.9L746.9,1278.7L739.4,1277.8ZM755.1,1316.6L749.4,1333.9L746.9,1326.7L739.4,1325.8ZM755.1,1364.6L749.4,1381.9L746.9,1374.7L739.4,1373.8ZM800.2,454.9L794.5,472.2L792.0,465.0L784.6,464.1ZM800.2,502.7L794.5,520.0L792.0,512.8L784.6,511.9ZM800.2,550.5L794.5,567.8L792.0,560.6L784.6,559.7ZM800.2,598.3L794.5,615.6L792.0,608.4L784.6,607.5ZM800.2,646.1L794.5,663.4L792.0,656.2L784.6,655.3ZM800.2,694.0L794.5,711.3L792.0,704.1L784.6,703.2ZM801.4,740.6L795.6,757.9L793.2,750.7L785.7,749.8ZM801.4,788.6L795.6,805.9L793.2,798.7L785.7,797.8ZM800.2,838.0L794.5,855.3L792.0,848.1L784.6,847.2ZM800.2,886.0L794.5,903.3L792.0,896.1L784.6,895.2ZM800.2,934.0L794.5,951.3L792.0,944.1L784.6,943.2ZM801.4,980.6L795.6,997.9L793.2,990.7L785.7,989.8ZM801.4,1028.6L795.6,1045.9L793.2,1038.7L785.7,1037.8ZM801.4,1076.6L795.6,1093.9L793.2,1086.7L785.7,1085.8ZM801.4,1124.6L795.6,1141.9L793.2,1134.7L785.7,1133.8ZM801.4,1172.6L795.6,1189.9L793.2,1182.7L785.7,1181.8ZM801.4,1220.6L795.6,1237.9L793.2,1230.7L785.7,1229.8ZM801.4,1268.6L795.6,1285.9L793.2,1278.7L785.7,1277.8ZM801.4,1316.6L795.6,1333.9L793.2,1326.7L785.7,1325.8ZM801.4,1364.6L795.6,1381.9L793.2,1374.7L785.7,1373.8ZM801.4,1412.6L795.6,1429.9L793.2,1422.7L785.7,1421.8ZM846.5,502.7L840.7,520.0L838.3,512.8L830.8,511.9ZM846.5,550.5L840.7,567.8L838.3,560.6L830.8,559.7ZM844.6,607.1L836.4,623.3L835.0,615.9L827.7,613.9ZM853.3,679.7L835.3,682.6L840.5,677.1L837.9,670.1ZM846.5,694.0L840.7,711.3L838.3,704.1L830.8,703.2ZM846.5,742.0L840.7,759.3L838.3,752.1L830.8,751.2ZM846.5,790.0L840.7,807.3L838.3,800.1L830.8,799.2ZM846.5,838.0L840.7,855.3L838.3,848.1L830.8,847.2ZM846.5,886.0L840.7,903.3L838.3,896.1L830.8,895.2ZM847.6,932.6L841.9,949.9L839.4,942.7L831.9,941.8ZM847.6,980.6L841.9,997.9L839.4,990.7L831.9,989.8ZM847.6,1028.6L841.9,1045.9L839.4,1038.7L831.9,1037.8ZM847.6,1076.6L841.9,1093.9L839.4,1086.7L831.9,1085.8ZM847.6,1124.6L841.9,1141.9L839.4,1134.7L831.9,1133.8ZM847.6,1172.6L841.9,1189.9L839.4,1182.7L831.9,1181.8ZM847.6,1220.6L841.9,1237.9L839.4,1230.7L831.9,1229.8ZM847.6,1268.6L841.9,1285.9L839.4,1278.7L831.9,1277.8ZM847.6,1316.6L841.9,1333.9L839.4,1326.7L831.9,1325.8ZM847.6,1364.6L841.9,1381.9L839.4,1374.7L831.9,1373.8ZM892.7,742.0L887.0,759.3L884.5,752.1L877.0,751.2ZM892.7,790.0L887.0,807.3L884.5,800.1L877.0,799.2ZM892.7,838.0L887.0,855.3L884.5,848.1L877.0,847.2ZM892.7,886.0L887.0,903.3L884.5,896.1L877.0,895.2ZM892.7,934.0L887.0,951.3L884.5,944.1L877.0,943.2ZM893.8,980.6L888.1,997.9L885.7,990.7L878.2,989.8ZM893.8,1028.6L888.1,1045.9L885.7,1038.7L878.2,1037.8ZM893.8,1076.6L888.1,1093.9L885.7,1086.7L878.2,1085.8ZM893.8,1124.6L888.1,1141.9L885.7,1134.7L878.2,1133.8ZM893.8,1172.6L888.1,1189.9L885.7,1182.7L878.2,1181.8ZM893.8,1220.6L888.1,1237.9L885.7,1230.7L878.2,1229.8ZM893.8,1268.6L888.1,1285.9L885.7,1278.7L878.2,1277.8ZM938.9,598.3L933.2,615.6L930.8,608.4L923.3,607.5ZM938.9,742.0L933.2,759.3L930.8,752.1L923.3,751.2ZM938.9,790.0L933.2,807.3L930.8,800.1L923.3,799.2ZM938.9,838.0L933.2,855.3L930.8,848.1L923.3,847.2ZM938.9,886.0L933.2,903.3L930.8,896.1L923.3,895.2ZM938.8,938.7L931.6,955.4L929.7,948.0L922.4,946.5ZM938.9,982.0L933.2,999.3L930.8,992.1L923.3,991.2ZM940.1,1028.6L934.4,1045.9L931.9,1038.7L924.4,1037.8ZM940.1,1076.6L934.4,1093.9L931.9,1086.7L924.4,1085.8ZM940.1,1124.6L934.4,1141.9L931.9,1134.7L924.4,1133.8ZM940.1,1172.6L934.4,1189.9L931.9,1182.7L924.4,1181.8ZM940.1,1220.6L934.4,1237.9L931.9,1230.7L924.4,1229.8ZM985.2,790.0L979.5,807.3L977.0,800.1L969.5,799.2ZM984.9,844.7L977.0,861.0L975.5,853.7L968.2,851.8ZM986.6,894.5L977.4,910.1L976.5,902.6L969.3,900.2ZM984.3,945.6L974.5,960.9L973.9,953.4L966.9,950.6ZM985.2,982.0L979.5,999.3L977.0,992.1L969.5,991.2ZM986.3,1028.6L980.6,1045.9L978.1,1038.7L970.6,1037.8ZM986.3,1076.6L980.6,1093.9L978.1,1086.7L970.6,1085.8ZM986.3,1124.6L980.6,1141.9L978.1,1134.7L970.6,1133.8ZM986.3,1172.6L980.6,1189.9L978.1,1182.7L970.6,1181.8ZM1031.4,790.0L1025.7,807.3L1023.2,800.1L1015.8,799.2ZM1030.9,849.6L1021.0,864.8L1020.5,857.3L1013.5,854.5ZM1030.1,907.6L1015.5,918.5L1017.6,911.2L1011.9,906.2ZM1032.6,980.6L1026.8,997.9L1024.4,990.7L1016.9,989.8ZM1031.4,1030.0L1025.7,1047.3L1023.2,1040.1L1015.8,1039.2ZM1031.4,1078.0L1025.7,1095.3L1023.2,1088.1L1015.8,1087.2ZM1032.6,1124.6L1026.8,1141.9L1024.4,1134.7L1016.9,1133.8ZM1078.8,980.6L1073.1,997.9L1070.6,990.7L1063.1,989.8ZM1075.8,1029.9L1070.9,1047.3L1068.1,1040.3L1060.6,1039.7ZM1077.7,1078.0L1071.9,1095.3L1069.5,1088.1L1062.0,1087.2ZM1310.0,596.9L1304.3,614.2L1301.8,607.0L1294.3,606.1ZM1310.0,644.7L1304.3,662.0L1301.8,654.8L1294.3,653.9ZM1310.0,692.6L1304.3,709.9L1301.8,702.7L1294.3,701.8ZM1310.0,740.6L1304.3,757.9L1301.8,750.7L1294.3,749.8ZM1310.0,788.6L1304.3,805.9L1301.8,798.7L1294.3,797.8Z" fill="#000"/>
<polygon points="522.2,338.0 522.9,346.1 524.9,352.9 530.9,357.6 537.0,360.3 543.0,365.0 547.7,370.3 553.1,379.8 556.5,387.8 559.9,397.3 559.9,410.7 556.5,418.8 552.5,426.2 549.1,428.9 553.1,434.2 555.1,441.6 559.2,443.0 561.9,436.3 565.9,432.2 571.3,428.9 572.0,422.8 575.3,418.8 580.7,416.1 586.1,412.3 592.8,412.7 596.2,418.1 601.5,418.8 604.2,422.8 604.9,428.9 610.3,434.2 611.0,438.9 606.3,445.7 605.6,451.0 607.6,455.8 610.3,457.1 617.0,451.0 623.7,449.0 627.1,445.0 623.1,438.3 627.8,433.6 634.5,427.1 650.6,427.1 663.4,429.5 670.8,433.6 681.6,436.3 688.3,438.9 704.5,448.9 739.5,462.0 767.4,474.2 784.9,483.8 804.1,500.4 811.1,502.2 832.1,521.4 854.9,542.4 868.8,554.6 875.8,556.4 882.8,565.1 887.6,570.8 897.0,584.2 905.1,599.0 911.1,613.8 917.2,625.9 919.9,638.0 921.2,654.1 918.5,667.6 913.2,678.4 909.1,685.1 906.4,694.5 901.7,698.3 887.6,698.3 880.9,695.8 866.1,693.8 855.3,691.1 844.6,686.4 833.8,683.7 824.4,679.0 813.6,679.0 811.6,676.7 808.9,681.0 815.6,683.1 818.3,689.8 823.0,693.8 833.1,695.2 839.2,693.2 845.2,694.5 845.9,702.6 844.6,706.6 852.6,710.6 860.7,711.3 862.0,716.7 868.1,718.7 868.1,728.1 863.4,729.5 864.1,734.8 868.8,740.2 878.2,741.6 882.2,740.2 884.2,748.3 886.3,749.2 889.0,763.2 896.0,768.5 904.7,769.3 909.9,765.8 917.8,765.8 922.2,770.2 923.1,780.7 927.4,784.2 934.4,781.6 938.8,776.3 944.9,780.7 958.9,781.6 972.0,781.6 983.4,791.2 985.1,795.6 993.9,797.3 1002.6,805.2 1007.9,810.4 1014.9,811.3 1027.1,817.4 1037.6,824.4 1048.1,834.9 1058.6,850.7 1066.4,861.1 1069.1,873.4 1072.6,885.6 1073.4,904.9 1072.6,918.8 1067.3,927.6 1063.8,934.6 1052.4,941.6 1046.3,939.0 1042.8,931.1 1037.6,926.7 1028.8,934.6 1021.9,931.1 1014.9,933.7 1006.1,934.6 992.1,932.8 986.9,939.0 985.1,945.1 976.4,955.6 972.3,961.5 972.3,969.0 983.0,966.9 990.6,964.7 993.8,970.1 1004.6,978.7 1013.2,982.0 1028.2,983.0 1039.0,990.6 1050.8,993.8 1054.0,1004.6 1057.3,1013.2 1057.3,1025.0 1062.7,1028.2 1073.4,1027.2 1086.3,1028.2 1093.9,1036.8 1098.2,1047.6 1098.2,1062.7 1112.2,1062.7 1116.5,1059.0 1122.9,1059.0 1130.5,1063.7 1141.2,1059.0 1146.6,1062.7 1153.0,1069.1 1161.7,1068.0 1168.1,1072.3 1176.7,1073.4 1187.5,1084.2 1190.7,1087.4 1197.2,1088.5 1199.3,1093.9 1195.7,1100.3 1198.2,1104.6 1201.5,1103.5 1202.5,1099.2 1209.0,1096.0 1214.4,1100.3 1217.6,1103.5 1224.1,1105.7 1228.4,1104.6 1238.0,1105.7 1241.5,1107.9 1246.0,1107.9 1246.0,333.0 522.2,333.0" fill="#d3d3d3"/>
<polyline points="522.2,338.0 522.9,346.1 524.9,352.9 530.9,357.6 537.0,360.3 543.0,365.0 547.7,370.3 553.1,379.8 556.5,387.8 559.9,397.3 559.9,410.7 556.5,418.8 552.5,426.2 549.1,428.9 553.1,434.2 555.1,441.6 559.2,443.0 561.9,436.3 565.9,432.2 571.3,428.9 572.0,422.8 575.3,418.8 580.7,416.1 586.1,412.3 592.8,412.7 596.2,418.1 601.5,418.8 604.2,422.8 604.9,428.9 610.3,434.2 611.0,438.9 606.3,445.7 605.6,451.0 607.6,455.8 610.3,457.1 617.0,451.0 623.7,449.0 627.1,445.0 623.1,438.3 627.8,433.6 634.5,427.1 650.6,427.1 663.4,429.5 670.8,433.6 681.6,436.3 688.3,438.9 704.5,448.9 739.5,462.0 767.4,474.2 784.9,483.8 804.1,500.4 811.1,502.2 832.1,521.4 854.9,542.4 868.8,554.6 875.8,556.4 882.8,565.1 887.6,570.8 897.0,584.2 905.1,599.0 911.1,613.8 917.2,625.9 919.9,638.0 921.2,654.1 918.5,667.6 913.2,678.4 909.1,685.1 906.4,694.5 901.7,698.3 887.6,698.3 880.9,695.8 866.1,693.8 855.3,691.1 844.6,686.4 833.8,683.7 824.4,679.0 813.6,679.0 811.6,676.7 808.9,681.0 815.6,683.1 818.3,689.8 823.0,693.8 833.1,695.2 839.2,693.2 845.2,694.5 845.9,702.6 844.6,706.6 852.6,710.6 860.7,711.3 862.0,716.7 868.1,718.7 868.1,728.1 863.4,729.5 864.1,734.8 868.8,740.2 878.2,741.6 882.2,740.2 884.2,748.3 886.3,749.2 889.0,763.2 896.0,768.5 904.7,769.3 909.9,765.8 917.8,765.8 922.2,770.2 923.1,780.7 927.4,784.2 934.4,781.6 938.8,776.3 944.9,780.7 958.9,781.6 972.0,781.6 983.4,791.2 985.1,795.6 993.9,797.3 1002.6,805.2 1007.9,810.4 1014.9,811.3 1027.1,817.4 1037.6,824.4 1048.1,834.9 1058.6,850.7 1066.4,861.1 1069.1,873.4 1072.6,885.6 1073.4,904.9 1072.6,918.8 1067.3,927.6 1063.8,934.6 1052.4,941.6 1046.3,939.0 1042.8,931.1 1037.6,926.7 1028.8,934.6 1021.9,931.1 1014.9,933.7 1006.1,934.6 992.1,932.8 986.9,939.0 985.1,945.1 976.4,955.6 972.3,961.5 972.3,969.0 983.0,966.9 990.6,964.7 993.8,970.1 1004.6,978.7 1013.2,982.0 1028.2,983.0 1039.0,990.6 1050.8,993.8 1054.0,1004.6 1057.3,1013.2 1057.3,1025.0 1062.7,1028.2 1073.4,1027.2 1086.3,1028.2 1093.9,1036.8 1098.2,1047.6 1098.2,1062.7 1112.2,1062.7 1116.5,1059.0 1122.9,1059.0 1130.5,1063.7 1141.2,1059.0 1146.6,1062.7 1153.0,1069.1 1161.7,1068.0 1168.1,1072.3 1176.7,1073.4 1187.5,1084.2 1190.7,1087.4 1197.2,1088.5 1199.3,1093.9 1195.7,1100.3 1198.2,1104.6 1201.5,1103.5 1202.5,1099.2 1209.0,1096.0 1214.4,1100.3 1217.6,1103.5 1224.1,1105.7 1228.4,1104.6 1238.0,1105.7 1241.5,1107.9" fill="none" stroke="#000" stroke-width="1.1" stroke-linejoin="round"/>
<text transform="translate(1043.5,431.8) scale(1,1.05)" font-size="25.3" fill="#0000ff" stroke="#0000ff" stroke-width="0.4" text-anchor="middle">PRONÓSTICO</text>
<text transform="translate(1044.9,465.4) scale(1,1.05)" font-size="25.1" fill="#0000ff" stroke="#0000ff" stroke-width="0.4" text-anchor="middle">10-Feb-2026 21:00 Z</text>
<text transform="translate(1042.8,548.5) scale(1,1.05)" font-size="21.5" fill="#000" stroke="#000" stroke-width="0.4" text-anchor="middle">COND. INI.</text>
<text transform="translate(1043.2,575.8) scale(1,1.05)" font-size="21.4" fill="#000" stroke="#000" stroke-width="0.4" text-anchor="middle">06-Feb-2026 00:00 Z</text>
<text transform="translate(931.0,663.8) scale(1,1.05)" font-size="20.1" fill="#000" stroke="#000" stroke-width="0.4" text-anchor="start">San Nicolás</text>
<text transform="translate(1055.8,831.9) scale(1,1.05)" font-size="17.6" fill="#000" stroke="#000" stroke-width="0.4" text-anchor="start">San Juan de Marcona</text>
</g>
<g id="frame">
<path d="M164.0,325.0H1254.0V1407.0H164.0Z M177.2,338.5V1393.6H1240.2V338.5Z" fill="#fff" fill-rule="evenodd"/>
<rect x="255.9" y="325.0" width="196.9" height="13.5" fill="#000"/>
<rect x="255.9" y="1393.6" width="196.9" height="13.4" fill="#000"/>
<rect x="649.6" y="325.0" width="196.9" height="13.5" fill="#000"/>
<rect x="649.6" y="1393.6" width="196.9" height="13.4" fill="#000"/>
<rect x="1043.3" y="325.0" width="196.9" height="13.5" fill="#000"/>
<rect x="1043.3" y="1393.6" width="196.9" height="13.4" fill="#000"/>
<rect x="164.0" y="338.5" width="13.2" height="142.0" fill="#000"/>
<rect x="1240.2" y="338.5" width="13.8" height="142.0" fill="#000"/>
<rect x="164.0" y="683.4" width="13.2" height="202.9" fill="#000"/>
<rect x="1240.2" y="683.4" width="13.8" height="202.9" fill="#000"/>
<rect x="164.0" y="1089.2" width="13.2" height="202.9" fill="#000"/>
<rect x="1240.2" y="1089.2" width="13.8" height="202.9" fill="#000"/>
<rect x="165.0" y="326.0" width="1088.0" height="1080.0" fill="none" stroke="#000" stroke-width="2"/>
<path d="M176.7,325.0V1407.0 M1240.7,325.0V1407.0 M164.0,338.0H1254.0 M164.0,1394.1H1254.0" stroke="#000" stroke-width="1" fill="none"/>
</g>
<g id="axlabels" fill="#000" stroke="#000" stroke-width="0.5" font-size="30.5">
<text transform="translate(255.9,314.4) scale(1,1.04)" text-anchor="middle">−75°30'</text>
<text transform="translate(255.9,1440.5) scale(1,1.04)" text-anchor="middle">−75°30'</text>
<text transform="translate(452.8,314.4) scale(1,1.04)" text-anchor="middle">−75°25'</text>
<text transform="translate(452.8,1440.5) scale(1,1.04)" text-anchor="middle">−75°25'</text>
<text transform="translate(649.6,314.4) scale(1,1.04)" text-anchor="middle">−75°20'</text>
<text transform="translate(649.6,1440.5) scale(1,1.04)" text-anchor="middle">−75°20'</text>
<text transform="translate(846.5,314.4) scale(1,1.04)" text-anchor="middle">−75°15'</text>
<text transform="translate(846.5,1440.5) scale(1,1.04)" text-anchor="middle">−75°15'</text>
<text transform="translate(1043.3,314.4) scale(1,1.04)" text-anchor="middle">−75°10'</text>
<text transform="translate(1043.3,1440.5) scale(1,1.04)" text-anchor="middle">−75°10'</text>
<text transform="translate(1240.2,314.4) scale(1,1.04)" text-anchor="middle">−75°05'</text>
<text transform="translate(1240.2,1440.5) scale(1,1.04)" text-anchor="middle">−75°05'</text>
<text transform="translate(152.5,491.7) scale(1,1.04)" text-anchor="end">−15°10'</text>
<text transform="translate(152.5,694.6) scale(1,1.04)" text-anchor="end">−15°15'</text>
<text transform="translate(152.5,897.5) scale(1,1.04)" text-anchor="end">−15°20'</text>
<text transform="translate(152.5,1100.4) scale(1,1.04)" text-anchor="end">−15°25'</text>
<text transform="translate(152.5,1303.3) scale(1,1.04)" text-anchor="end">−15°30'</text>
</g>
<g id="colorbar">
<rect x="1308.0" y="1328.47" width="36.1" height="55.43" fill="#0010d8"/>
<rect x="1308.0" y="1273.34" width="36.1" height="55.43" fill="#0038f0"/>
<rect x="1308.0" y="1218.22" width="36.1" height="55.43" fill="#0078d8"/>
<rect x="1308.0" y="1163.09" width="36.1" height="55.43" fill="#00c890"/>
<rect x="1308.0" y="1107.96" width="36.1" height="55.43" fill="#18f060"/>
<rect x="1308.0" y="1052.83" width="36.1" height="55.43" fill="#40f838"/>
<rect x="1308.0" y="997.71" width="36.1" height="55.43" fill="#80fc14"/>
<rect x="1308.0" y="942.58" width="36.1" height="55.43" fill="#d8fc10"/>
<rect x="1308.0" y="887.45" width="36.1" height="55.43" fill="#ffff00"/>
<rect x="1308.0" y="832.32" width="36.1" height="55.43" fill="#ffff00"/>
<rect x="1308.0" y="777.19" width="36.1" height="55.43" fill="#ffe800"/>
<rect x="1308.0" y="722.07" width="36.1" height="55.43" fill="#ffc000"/>
<rect x="1308.0" y="666.94" width="36.1" height="55.43" fill="#ff9000"/>
<rect x="1308.0" y="611.81" width="36.1" height="55.43" fill="#ff6800"/>
<rect x="1308.0" y="556.68" width="36.1" height="55.43" fill="#ff4000"/>
<rect x="1308.0" y="501.56" width="36.1" height="55.43" fill="#ff1808"/>
<rect x="1308.0" y="446.43" width="36.1" height="55.43" fill="#e80008"/>
<rect x="1308.0" y="391.30" width="36.1" height="55.43" fill="#c00000"/>
<path d="M1308.0,1328.47H1344.1" stroke="#000" stroke-opacity="0.75" stroke-width="0.9"/>
<path d="M1308.0,1273.34H1344.1" stroke="#000" stroke-opacity="0.75" stroke-width="0.9"/>
<path d="M1308.0,1218.22H1344.1" stroke="#000" stroke-opacity="0.75" stroke-width="0.9"/>
<path d="M1308.0,1163.09H1344.1" stroke="#000" stroke-opacity="0.75" stroke-width="0.9"/>
<path d="M1308.0,1107.96H1344.1" stroke="#000" stroke-opacity="0.75" stroke-width="0.9"/>
<path d="M1308.0,1052.83H1344.1" stroke="#000" stroke-opacity="0.75" stroke-width="0.9"/>
<path d="M1308.0,997.71H1344.1" stroke="#000" stroke-opacity="0.75" stroke-width="0.9"/>
<path d="M1308.0,942.58H1344.1" stroke="#000" stroke-opacity="0.75" stroke-width="0.9"/>
<path d="M1308.0,887.45H1344.1" stroke="#000" stroke-opacity="0.75" stroke-width="0.9"/>
<path d="M1308.0,832.32H1344.1" stroke="#000" stroke-opacity="0.75" stroke-width="0.9"/>
<path d="M1308.0,777.19H1344.1" stroke="#000" stroke-opacity="0.75" stroke-width="0.9"/>
<path d="M1308.0,722.07H1344.1" stroke="#000" stroke-opacity="0.75" stroke-width="0.9"/>
<path d="M1308.0,666.94H1344.1" stroke="#000" stroke-opacity="0.75" stroke-width="0.9"/>
<path d="M1308.0,611.81H1344.1" stroke="#000" stroke-opacity="0.75" stroke-width="0.9"/>
<path d="M1308.0,556.68H1344.1" stroke="#000" stroke-opacity="0.75" stroke-width="0.9"/>
<path d="M1308.0,501.56H1344.1" stroke="#000" stroke-opacity="0.75" stroke-width="0.9"/>
<path d="M1308.0,446.43H1344.1" stroke="#000" stroke-opacity="0.75" stroke-width="0.9"/>
<path d="M1308.0,391.3L1326,371.8L1344.1,391.3Z" fill="#c00000" stroke="#000" stroke-width="3.8" stroke-linejoin="miter"/>
<rect x="1308.0" y="391.3" width="36.1" height="992.3" fill="none" stroke="#000" stroke-width="3.8"/>
<g font-size="30" fill="#000" stroke="#000" stroke-width="0.5">
<path d="M1345.6,1383.60H1357.2" stroke="#000" stroke-width="2.8" fill="none"/>
<text transform="translate(1367.2,1394.3) scale(1,1.04)">0.00</text>
<path d="M1345.6,1328.47H1357.2" stroke="#000" stroke-width="2.8" fill="none"/>
<text transform="translate(1367.2,1339.2) scale(1,1.04)">0.25</text>
<path d="M1345.6,1273.34H1357.2" stroke="#000" stroke-width="2.8" fill="none"/>
<text transform="translate(1367.2,1284.0) scale(1,1.04)">0.50</text>
<path d="M1345.6,1218.22H1357.2" stroke="#000" stroke-width="2.8" fill="none"/>
<text transform="translate(1367.2,1228.9) scale(1,1.04)">0.75</text>
<path d="M1345.6,1163.09H1357.2" stroke="#000" stroke-width="2.8" fill="none"/>
<text transform="translate(1367.2,1173.8) scale(1,1.04)">1.00</text>
<path d="M1345.6,1107.96H1357.2" stroke="#000" stroke-width="2.8" fill="none"/>
<text transform="translate(1367.2,1118.7) scale(1,1.04)">1.25</text>
<path d="M1345.6,1052.83H1357.2" stroke="#000" stroke-width="2.8" fill="none"/>
<text transform="translate(1367.2,1063.5) scale(1,1.04)">1.50</text>
<path d="M1345.6,997.71H1357.2" stroke="#000" stroke-width="2.8" fill="none"/>
<text transform="translate(1367.2,1008.4) scale(1,1.04)">1.75</text>
<path d="M1345.6,942.58H1357.2" stroke="#000" stroke-width="2.8" fill="none"/>
<text transform="translate(1367.2,953.3) scale(1,1.04)">2.00</text>
<path d="M1345.6,887.45H1357.2" stroke="#000" stroke-width="2.8" fill="none"/>
<text transform="translate(1367.2,898.1) scale(1,1.04)">2.25</text>
<path d="M1345.6,832.32H1357.2" stroke="#000" stroke-width="2.8" fill="none"/>
<text transform="translate(1367.2,843.0) scale(1,1.04)">2.50</text>
<path d="M1345.6,777.19H1357.2" stroke="#000" stroke-width="2.8" fill="none"/>
<text transform="translate(1367.2,787.9) scale(1,1.04)">2.75</text>
<path d="M1345.6,722.07H1357.2" stroke="#000" stroke-width="2.8" fill="none"/>
<text transform="translate(1367.2,732.8) scale(1,1.04)">3.00</text>
<path d="M1345.6,666.94H1357.2" stroke="#000" stroke-width="2.8" fill="none"/>
<text transform="translate(1367.2,677.6) scale(1,1.04)">3.25</text>
<path d="M1345.6,611.81H1357.2" stroke="#000" stroke-width="2.8" fill="none"/>
<text transform="translate(1367.2,622.5) scale(1,1.04)">3.50</text>
<path d="M1345.6,556.68H1357.2" stroke="#000" stroke-width="2.8" fill="none"/>
<text transform="translate(1367.2,567.4) scale(1,1.04)">3.75</text>
<path d="M1345.6,501.56H1357.2" stroke="#000" stroke-width="2.8" fill="none"/>
<text transform="translate(1367.2,512.3) scale(1,1.04)">4.00</text>
<path d="M1345.6,446.43H1357.2" stroke="#000" stroke-width="2.8" fill="none"/>
<text transform="translate(1367.2,457.1) scale(1,1.04)">4.25</text>
<path d="M1345.6,391.30H1357.2" stroke="#000" stroke-width="2.8" fill="none"/>
<text transform="translate(1367.2,402.0) scale(1,1.04)">4.50</text>
<text transform="translate(1325.6,360.7) scale(1,1.04)" text-anchor="middle">(m)</text>
</g></g>
<g id="logo-dhn">
<rect x="85" y="62" width="131" height="196" fill="#fdfefc"/>
<path d="M96.6,184.5 C94.5,192 93.6,198 94.2,202.4 L98.1,225.2 L102.5,219.9 C112,232 130,245 151,253.8 C172,245 189,232 198.6,219.9 L202.6,225.2 L206.9,202.4 C207.4,198 206.5,192 204.8,184.5 C204,200 197,214 186,223 C176,231 163,236 150,236 C137,236 124,231 114,223 C103,214 97.5,200 96.6,184.5Z" fill="#1b2c60"/>
<path d="M98.6,197.2 C97.8,204 98.6,210 100.3,215.1 M98.6,197.2 C100.5,203 102.6,207 105.5,210.3 M202.1,197.2 C202.9,204 202.1,210 200.4,215.1 M202.1,197.2 C200.2,203 198.1,207 195.1,211.2 M117.8,227.8 C128,234 139,237 151,237 C163,237 174,234 183.8,227.4 M151,232.2 V246.2" stroke="#f2b51d" stroke-width="1.1" fill="none" stroke-linecap="round"/>
<path d="M99,97.5 C115,94.2 135,93.4 146,93.2 L149.4,97.5 L152.8,93.2 C165,93.4 185,94.2 200,97.5 L200,106.5 C190,107.5 182,108.1 176,108.1 L123,108.1 C117,108.1 109,107.5 99,106.5Z" fill="#1b2c60"/>
<path d="M118.2,94 V108.5 M123.5,93.8 V110 M175,93.8 V110 M180.3,94 V108.5" stroke="#f2b51d" stroke-width="1"/>
<ellipse cx="149.9" cy="163.8" rx="53.4" ry="65.3" fill="#fff"/>
<ellipse cx="149.9" cy="163.8" rx="52.6" ry="64.5" fill="none" stroke="#1b2c60" stroke-width="2.2"/>
<ellipse cx="149.9" cy="163.8" rx="52.6" ry="64.5" fill="none" stroke="#fff" stroke-width="0.8" stroke-dasharray="0.9 1.5"/>
<ellipse cx="150.2" cy="165" rx="42.3" ry="53.3" fill="#fff" stroke="#1b2c60" stroke-width="2"/>
<ellipse cx="150.2" cy="165" rx="42.3" ry="53.3" fill="none" stroke="#fff" stroke-width="0.7" stroke-dasharray="0.9 1.5"/>
<defs>
<path id="dhnTop" d="M104.6,172 A45.8,57.3 0 1 1 195.2,172"/>
<path id="dhnBot" d="M99.6,156 A50.8,62.3 0 1 0 200.2,156"/>
</defs>
<g style="font-family:'Liberation Serif',serif;font-weight:bold" fill="#1b2c60" stroke="#1b2c60" stroke-width="0.3">
<text style="font-family:inherit" font-size="9.2" textLength="127" lengthAdjust="spacingAndGlyphs"><textPath href="#dhnTop" startOffset="50%" text-anchor="middle" textLength="127" lengthAdjust="spacingAndGlyphs">MARINA DE GUERRA DEL PERU</textPath></text>
<text style="font-family:inherit" font-size="8.6" textLength="176" lengthAdjust="spacingAndGlyphs"><textPath href="#dhnBot" startOffset="50%" text-anchor="middle" textLength="176" lengthAdjust="spacingAndGlyphs">DIRECCION DE HIDROGRAFIA Y NAVEGACION</textPath></text>
</g>
<circle cx="103.5" cy="155" r="0.9" fill="#1b2c60"/><circle cx="196.2" cy="155" r="0.9" fill="#1b2c60"/>
<defs><pattern id="stip" width="1.7" height="1.7" patternUnits="userSpaceOnUse"><rect width="1.7" height="1.7" fill="#eef0f6"/><circle cx="0.85" cy="0.85" r="0.62" fill="#1b2c60"/></pattern></defs>
<rect x="120.4" y="125.6" width="58.4" height="75.6" fill="#fff" stroke="#1b2c60" stroke-width="1.5" stroke-dasharray="2.2 0.7"/>
<rect x="122.2" y="127.4" width="54.8" height="72" fill="none" stroke="#1b2c60" stroke-width="0.5"/>
<path d="M135.3,127.8 L176.6,127.8 L176.6,199.0 L173.8,199.0 L169.6,193.6 L162.6,186.6 L155.6,179.6 L150.0,171.2 L145.8,165.6 L141.6,155.8 L136.0,150.2 L132.5,144.6 L133.9,139.0 L137.4,136.2 L135.3,130.6Z" fill="url(#stip)" stroke="#1b2c60" stroke-width="0.6"/>
<path d="M138.3,127 V160.5 M137.9,183.2 V200.5 M159.7,127 V200.5 M121,138.4 H177.5 M121,160.5 H146 M121,183.2 H160 M137.9,183.2 L137.9,200" stroke="#1b2c60" stroke-width="0.7" fill="none"/>
<path d="M163.8,140.28 V147.10000000000002 M161.60000000000002,142.04000000000002 H166.0 M160.94,144.68 C161.38000000000002,147.54000000000002 166.22,147.54000000000002 166.66000000000003,144.68" stroke="#1b2c60" stroke-width="0.9" fill="none"/>
<path d="M146.6,173.20000000000002 V179.4 M144.6,174.8 H148.6 M144.0,177.20000000000002 C144.4,179.8 148.79999999999998,179.8 149.2,177.20000000000002" stroke="#1b2c60" stroke-width="0.9" fill="none"/>
<path d="M173.2,185.8 V192.0 M171.2,187.4 H175.2 M170.6,189.8 C171.0,192.4 175.39999999999998,192.4 175.79999999999998,189.8" stroke="#1b2c60" stroke-width="0.9" fill="none"/>
<g style="font-weight:bold" font-size="3.2" fill="#1b2c60"><text x="142" y="142.5">IQUITOS</text><text x="152" y="173">CALLAO</text><text x="166" y="181.5">PERU</text></g>
<text transform="translate(127.2,147.5) rotate(64)" style="font-family:'Liberation Serif',serif;font-weight:bold;font-style:italic" font-size="7.6" letter-spacing="1.0" fill="#1b2c60">200 MILLAS</text>
<circle cx="130" cy="193.7" r="5.4" fill="none" stroke="#1b2c60" stroke-width="0.9" stroke-dasharray="1.2 0.6"/><circle cx="130" cy="193.7" r="3.2" fill="none" stroke="#1b2c60" stroke-width="0.6"/><path d="M130,189.8 V197.6 M126.2,193.7 H133.8" stroke="#1b2c60" stroke-width="0.6"/><circle cx="130" cy="186.3" r="0.7" fill="#1b2c60"/>
<path d="M121,203 C128,207 134,208 141,207 M158,207 C165,208 171,207 178,203 M123,205.5 C129,209 135,210 141,209.5 M158,209.5 C164,210 170,209 176,205.5" stroke="#1b2c60" stroke-width="1.1" fill="none" stroke-dasharray="1.4 0.8"/>
<rect x="142.4" y="206.4" width="14.8" height="8" rx="1.5" fill="#fff" stroke="#1b2c60" stroke-width="0.8" stroke-dasharray="1.6 0.6"/><rect x="147" y="209" width="5.6" height="3.4" fill="none" stroke="#1b2c60" stroke-width="0.6"/>
<path d="M151.6,70.4 L153.0,76.0 L158.7,75.2 L155.8,80.1 L160.4,83.6 L154.8,85.0 L155.6,90.7 L150.7,87.8 L147.2,92.4 L145.8,86.8 L140.1,87.6 L143.0,82.7 L138.4,79.2 L144.0,77.8 L143.2,72.1 L148.1,75.0Z" fill="#1b2c60"/>
<path d="M149.4,66.6 L151.5,76.2 L159.9,70.9 L154.6,79.3 L164.2,81.4 L154.6,83.5 L159.9,91.9 L151.5,86.6 L149.4,98.6 L147.3,86.6 L138.9,91.9 L144.2,83.5 L134.6,81.4 L144.2,79.3 L138.9,70.9 L147.3,76.2Z" fill="#f2b51d" stroke="#1b2c60" stroke-width="0.7" stroke-linejoin="miter"/>
<path d="M153.6,81.4L162.4,81.4M152.4,84.4L158.6,90.6M149.4,85.6L149.4,94.4M146.4,84.4L140.2,90.6M145.2,81.4L136.4,81.4M146.4,78.4L140.2,72.2M149.4,77.2L149.4,68.4M152.4,78.4L158.6,72.2" stroke="#1b2c60" stroke-width="0.6"/>
<circle cx="149.4" cy="81.4" r="4.1" fill="#f2b51d" stroke="#1b2c60" stroke-width="0.7"/>
<path d="M147.70000000000002,80.60000000000001 h1.2 M149.9,80.60000000000001 h1.2 M149.4,81.0 v1.6 M148.4,83.4 h2" stroke="#1b2c60" stroke-width="0.5"/>
</g>
<g id="logo-mgp">
<defs>
<linearGradient id="gd1" x1="0" y1="0" x2="1" y2="1"><stop offset="0" stop-color="#fff0d0"/><stop offset="0.5" stop-color="#f4ca7c"/><stop offset="1" stop-color="#d48e34"/></linearGradient>
<linearGradient id="gd2" x1="1" y1="0" x2="0" y2="1"><stop offset="0" stop-color="#fff0d0"/><stop offset="0.5" stop-color="#f4ca7c"/><stop offset="1" stop-color="#d48e34"/></linearGradient>
<linearGradient id="gd3" x1="0" y1="0" x2="0" y2="1"><stop offset="0" stop-color="#f7d592"/><stop offset="1" stop-color="#fcecc8"/></linearGradient>
<path id="mgpArc" d="M1200.6,116.4 A95.6,95.6 0 0 1 1329.8,116.4"/>
</defs>
<circle cx="1214.2" cy="126.6" r="6.6" fill="none" stroke="#e9b55c" stroke-width="2.2"/><circle cx="1214.2" cy="126.6" r="6.6" fill="none" stroke="#d08a28" stroke-width="0.4"/>
<circle cx="1316.2" cy="126.6" r="6.6" fill="none" stroke="#e9b55c" stroke-width="2.2"/><circle cx="1316.2" cy="126.6" r="6.6" fill="none" stroke="#d08a28" stroke-width="0.4"/>
<path d="M1209,133 C1204,150 1210,168 1228,172 M1321,133 C1326,150 1320,168 1302,172 M1228,172 C1236,176 1238,186 1233,196 M1302,172 C1294,176 1292,186 1297,196" stroke="#d08a28" stroke-width="0.7" fill="none"/>
<path d="M1313.6,212.6 L1307.5,218.7 L1283.8,187.4 L1289.9,182.4Z" fill="url(#gd2)" stroke="#d08a28" stroke-width="0.4"/>
<path d="M1320.3,185.9 C1323.4,204.6 1314.3,220.7 1292.1,224.9" fill="none" stroke="#d08a28" stroke-width="10.8" />
<path d="M1320.3,185.9 C1323.4,204.6 1314.3,220.7 1292.1,224.9" fill="none" stroke="url(#gd2)" stroke-width="10"/>
<path d="M1312.6,165.7 L1321.1,173.3 L1329.2,183.4 L1332.2,188.2 L1325.0,188.6 L1321.1,184.4 L1319.9,193.0 L1314.7,192.7 L1316.1,180.3Z" fill="url(#gd2)" stroke="#d08a28" stroke-width="0.5"/>
<path d="M1268.7,217.7 L1296.7,217.1 L1292.1,221.9 L1295.4,233.6 L1286.8,229.2 L1279.8,225.7Z" fill="url(#gd2)" stroke="#d08a28" stroke-width="0.5"/>
<path d="M1216.7,212.6 L1222.8,218.7 L1246.5,187.4 L1240.4,182.4Z" fill="url(#gd1)" stroke="#d08a28" stroke-width="0.4"/>
<path d="M1210.0,185.9 C1206.9,204.6 1216.0,220.7 1238.2,224.9" fill="none" stroke="#d08a28" stroke-width="10.8" />
<path d="M1210.0,185.9 C1206.9,204.6 1216.0,220.7 1238.2,224.9" fill="none" stroke="url(#gd1)" stroke-width="10"/>
<path d="M1217.7,165.7 L1209.2,173.3 L1201.1,183.4 L1198.1,188.2 L1205.3,188.6 L1209.2,184.4 L1210.4,193.0 L1215.6,192.7 L1214.2,180.3Z" fill="url(#gd1)" stroke="#d08a28" stroke-width="0.5"/>
<path d="M1261.6,217.7 L1233.6,217.1 L1238.2,221.9 L1234.9,233.6 L1243.5,229.2 L1250.5,225.7Z" fill="url(#gd1)" stroke="#d08a28" stroke-width="0.5"/>
<path d="M1216.1,163.8 L1250.0,122.0 L1240.6,114.4 L1206.7,156.2Z" fill="url(#gd1)" stroke="#d08a28" stroke-width="0.6"/>
<path d="M1219.5,159.7 L1210.1,152.0" stroke="#d08a28" stroke-width="0.9"/>
<path d="M1222.2,156.3 L1212.8,148.7" stroke="#d08a28" stroke-width="0.9"/>
<path d="M1240.5,133.7 L1231.1,126.1" stroke="#d08a28" stroke-width="0.9"/>
<path d="M1243.2,130.4 L1233.8,122.7" stroke="#d08a28" stroke-width="0.9"/>
<path d="M1246.6,126.2 L1237.2,118.6" stroke="#d08a28" stroke-width="0.9"/>
<circle cx="1227.0" cy="140.8" r="1.8" fill="#e89a20"/>
<path d="M1215.2,130.0 L1224.8,138.0" stroke="#d08a28" stroke-width="9.6" stroke-linecap="round"/><path d="M1215.2,130.0 L1224.8,138.0" stroke="url(#gd1)" stroke-width="8.8" stroke-linecap="round"/>
<path d="M1314.2,163.8 L1280.3,122.0 L1289.7,114.4 L1323.6,156.2Z" fill="url(#gd2)" stroke="#d08a28" stroke-width="0.6"/>
<path d="M1310.8,159.7 L1320.2,152.0" stroke="#d08a28" stroke-width="0.9"/>
<path d="M1308.1,156.3 L1317.5,148.7" stroke="#d08a28" stroke-width="0.9"/>
<path d="M1289.8,133.7 L1299.2,126.1" stroke="#d08a28" stroke-width="0.9"/>
<path d="M1287.1,130.4 L1296.5,122.7" stroke="#d08a28" stroke-width="0.9"/>
<path d="M1283.7,126.2 L1293.1,118.6" stroke="#d08a28" stroke-width="0.9"/>
<circle cx="1303.3" cy="140.8" r="1.8" fill="#e89a20"/>
<path d="M1315.1,130.0 L1305.5,138.0" stroke="#d08a28" stroke-width="9.6" stroke-linecap="round"/><path d="M1315.1,130.0 L1305.5,138.0" stroke="url(#gd2)" stroke-width="8.8" stroke-linecap="round"/>
<path d="M1196.1,113.8 L1202.1,119.4 L1210.7,117.9 L1208.7,122.9 L1199.6,122.4 L1195.5,118.4Z" fill="#e3a648" stroke="#d08a28" stroke-width="0.4"/>
<path d="M1334.3,113.8 L1328.2,119.4 L1319.6,117.9 L1321.6,122.9 L1330.7,122.4 L1334.8,118.4Z" fill="#e3a648" stroke="#d08a28" stroke-width="0.4"/>
<path d="M1195.2,107.3 A105.3,105.3 0 0 1 1335.2,107.3 L1329.7,119.8 A92.3,92.3 0 0 0 1200.7,119.8Z" fill="url(#gd3)" stroke="#dc9a3c" stroke-width="1"/>
<text style="font-family:'Liberation Serif',serif;font-weight:bold" font-size="8.8" fill="#111" stroke="#111" stroke-width="0.3"><textPath href="#mgpArc" startOffset="50%" text-anchor="middle" textLength="127" lengthAdjust="spacingAndGlyphs">MARINA DE GUERRA DEL PERU</textPath></text>
<path d="M1267.8,115.1 L1270.4,120.2 L1276.2,120.7 L1274.4,126.2 L1278.1,130.6 L1273.0,133.2 L1272.5,139.0 L1267.0,137.2 L1262.6,140.9 L1260.0,135.8 L1254.2,135.3 L1256.0,129.8 L1252.3,125.4 L1257.4,122.8 L1257.9,117.0 L1263.4,118.8Z" fill="#d9962f" stroke="#8a5518" stroke-width="0.6"/>
<circle cx="1265.2" cy="128.0" r="8.6" fill="#e3a542" stroke="#a86a20" stroke-width="0.6"/>
<path d="M1265.2,128.0L1281.8,128.0M1265.2,128.0L1274.8,137.6M1265.2,128.0L1265.2,144.6M1265.2,128.0L1255.6,137.6M1265.2,128.0L1248.6,128.0M1265.2,128.0L1255.6,118.4M1265.2,128.0L1265.2,111.4M1265.2,128.0L1274.8,118.4" stroke="#4a2c10" stroke-width="0.8"/>
<circle cx="1265.2" cy="128.0" r="3.9" fill="#f3cf8a" stroke="#b9782a" stroke-width="0.6"/>
<path d="M1265.2,140.0 V145.0" stroke="#b9782a" stroke-width="1"/>
<path d="M1242.5,145.5 L1250.5,144.5 L1258.6,144.2 L1265.2,142.8 L1271.7,144.2 L1279.8,144.5 L1288.4,145.5 L1292.9,154.1 L1290.9,160.2 L1288.4,168.2 L1287.8,175.3 L1291.4,180.3 L1294.4,188.4 L1293.9,196.5 L1289.4,203.6 L1279.8,207.8 L1265.2,211.8 L1250.5,207.8 L1241.4,203.6 L1237.4,196.5 L1236.9,188.4 L1239.4,180.3 L1243.0,175.3 L1242.5,168.2 L1239.4,160.2 L1237.4,154.1Z" fill="#fffdf6" stroke="#dc9a3c" stroke-width="1.2" stroke-linejoin="round"/>
<path d="M1243.7,147.1 L1264.1,146.9 L1264.1,174.8 L1243.7,174.8 L1242.9,168.2 L1240.0,160.2 L1238.6,154.3Z" fill="#1b9bd7"/>
<path d="M1243.5,173.3 L1264.1,173.3 L1264.1,174.9 L1243.5,174.9Z" fill="#3a9e48"/>
<path d="M1266.4,146.9 L1287.0,146.7 L1291.7,154.3 L1289.9,160.2 L1287.4,168.2 L1287.1,174.8 L1266.4,174.8Z" fill="#ffffff"/>
<path d="M1243.3,176.9 L1287.4,176.9 L1290.7,180.9 L1293.3,188.4 L1292.9,196.1 L1288.7,202.7 L1279.4,206.6 L1265.2,210.4 L1250.9,206.6 L1242.1,202.7 L1238.4,196.1 L1238.0,188.4 L1240.2,180.9Z" fill="#d91a1a"/>
<path d="M1265.2,145.0 L1265.2,175.3 M1242.5,175.8 L1288.4,175.8" stroke="#e8b050" stroke-width="1.2" fill="none"/>
<path d="M1244.5,160.2 L1246.5,158.8 L1254.6,158.8 L1256.8,157.1 L1257.4,152.6 L1256.8,150.9 L1259.6,151.3 L1261.8,152.1 L1260.6,153.6 L1259.6,155.1 L1259.4,161.7 L1258.2,165.2 L1258.2,173.5 L1257.0,173.5 L1256.6,166.4 L1255.6,165.2 L1255.4,173.5 L1254.2,173.5 L1254.0,164.8 L1249.5,164.6 L1248.3,167.2 L1248.9,173.5 L1247.7,173.5 L1246.7,167.7 L1246.1,173.5 L1244.9,173.5 L1245.3,165.2 L1244.3,163.0Z" fill="#9c4a1c"/>
<path d="M1277.0,174.3 L1277.6,166.4 L1275.7,162.7 L1277.0,162.4 L1278.0,164.7 L1278.8,160.7 L1279.8,161.0 L1279.2,166.4 L1280.2,174.3Z" fill="#a85a20"/>
<ellipse cx="1270.7" cy="159.2" rx="4.0" ry="3.8" fill="#1f9040" fill-opacity="0.9"/>
<ellipse cx="1275.7" cy="155.1" rx="4.5" ry="3.5" fill="#1f9040" fill-opacity="0.9"/>
<ellipse cx="1280.8" cy="154.1" rx="4.2" ry="3.2" fill="#1f9040" fill-opacity="0.9"/>
<ellipse cx="1284.3" cy="158.7" rx="3.8" ry="4.0" fill="#1f9040" fill-opacity="0.9"/>
<ellipse cx="1277.8" cy="159.7" rx="5.0" ry="3.0" fill="#1f9040" fill-opacity="0.9"/>
<ellipse cx="1270.7" cy="163.7" rx="2.8" ry="2.2" fill="#1f9040" fill-opacity="0.9"/>
<ellipse cx="1283.8" cy="163.7" rx="3.0" ry="2.2" fill="#1f9040" fill-opacity="0.9"/>
<path d="M1278.0,165.2 L1272.7,160.2 M1278.4,164.2 L1283.8,158.2 M1278.4,163.2 L1278.3,155.1" stroke="#a85a20" stroke-width="0.6" fill="none"/>
<path d="M1240.2,187.4 L1242.5,183.4 L1248.5,180.9 L1256.6,180.1 L1264.6,181.4 L1270.7,184.4 L1275.7,188.4 L1280.8,190.9 L1285.8,190.4 L1288.4,187.4 L1286.8,184.4 L1283.3,184.4 L1283.3,187.4 L1280.8,187.4 L1279.3,184.4 L1281.3,181.6 L1285.8,181.2 L1290.4,184.4 L1290.9,190.4 L1286.8,196.0 L1279.8,198.0 L1270.7,196.0 L1263.6,193.5 L1258.6,195.0 L1259.6,198.0 L1266.7,202.0 L1270.7,206.1 L1264.6,207.1 L1254.6,204.6 L1246.5,200.5 L1241.4,194.5Z" fill="#f2b22e" stroke="#d88c1a" stroke-width="0.6" stroke-linejoin="round"/>
<path d="M1242.5,188.4 L1250.5,184.4 L1260.6,184.4 L1270.7,188.4 M1242.5,193.5 L1250.5,190.4 L1259.6,190.4 M1246.5,199.5 L1254.6,196.5 L1258.6,196.5 M1254.6,203.6 L1260.6,201.5 L1266.7,203.6" stroke="#d88c1a" stroke-width="0.5" fill="none" stroke-dasharray="1 0.8"/>
</g>
</svg></body></html>
